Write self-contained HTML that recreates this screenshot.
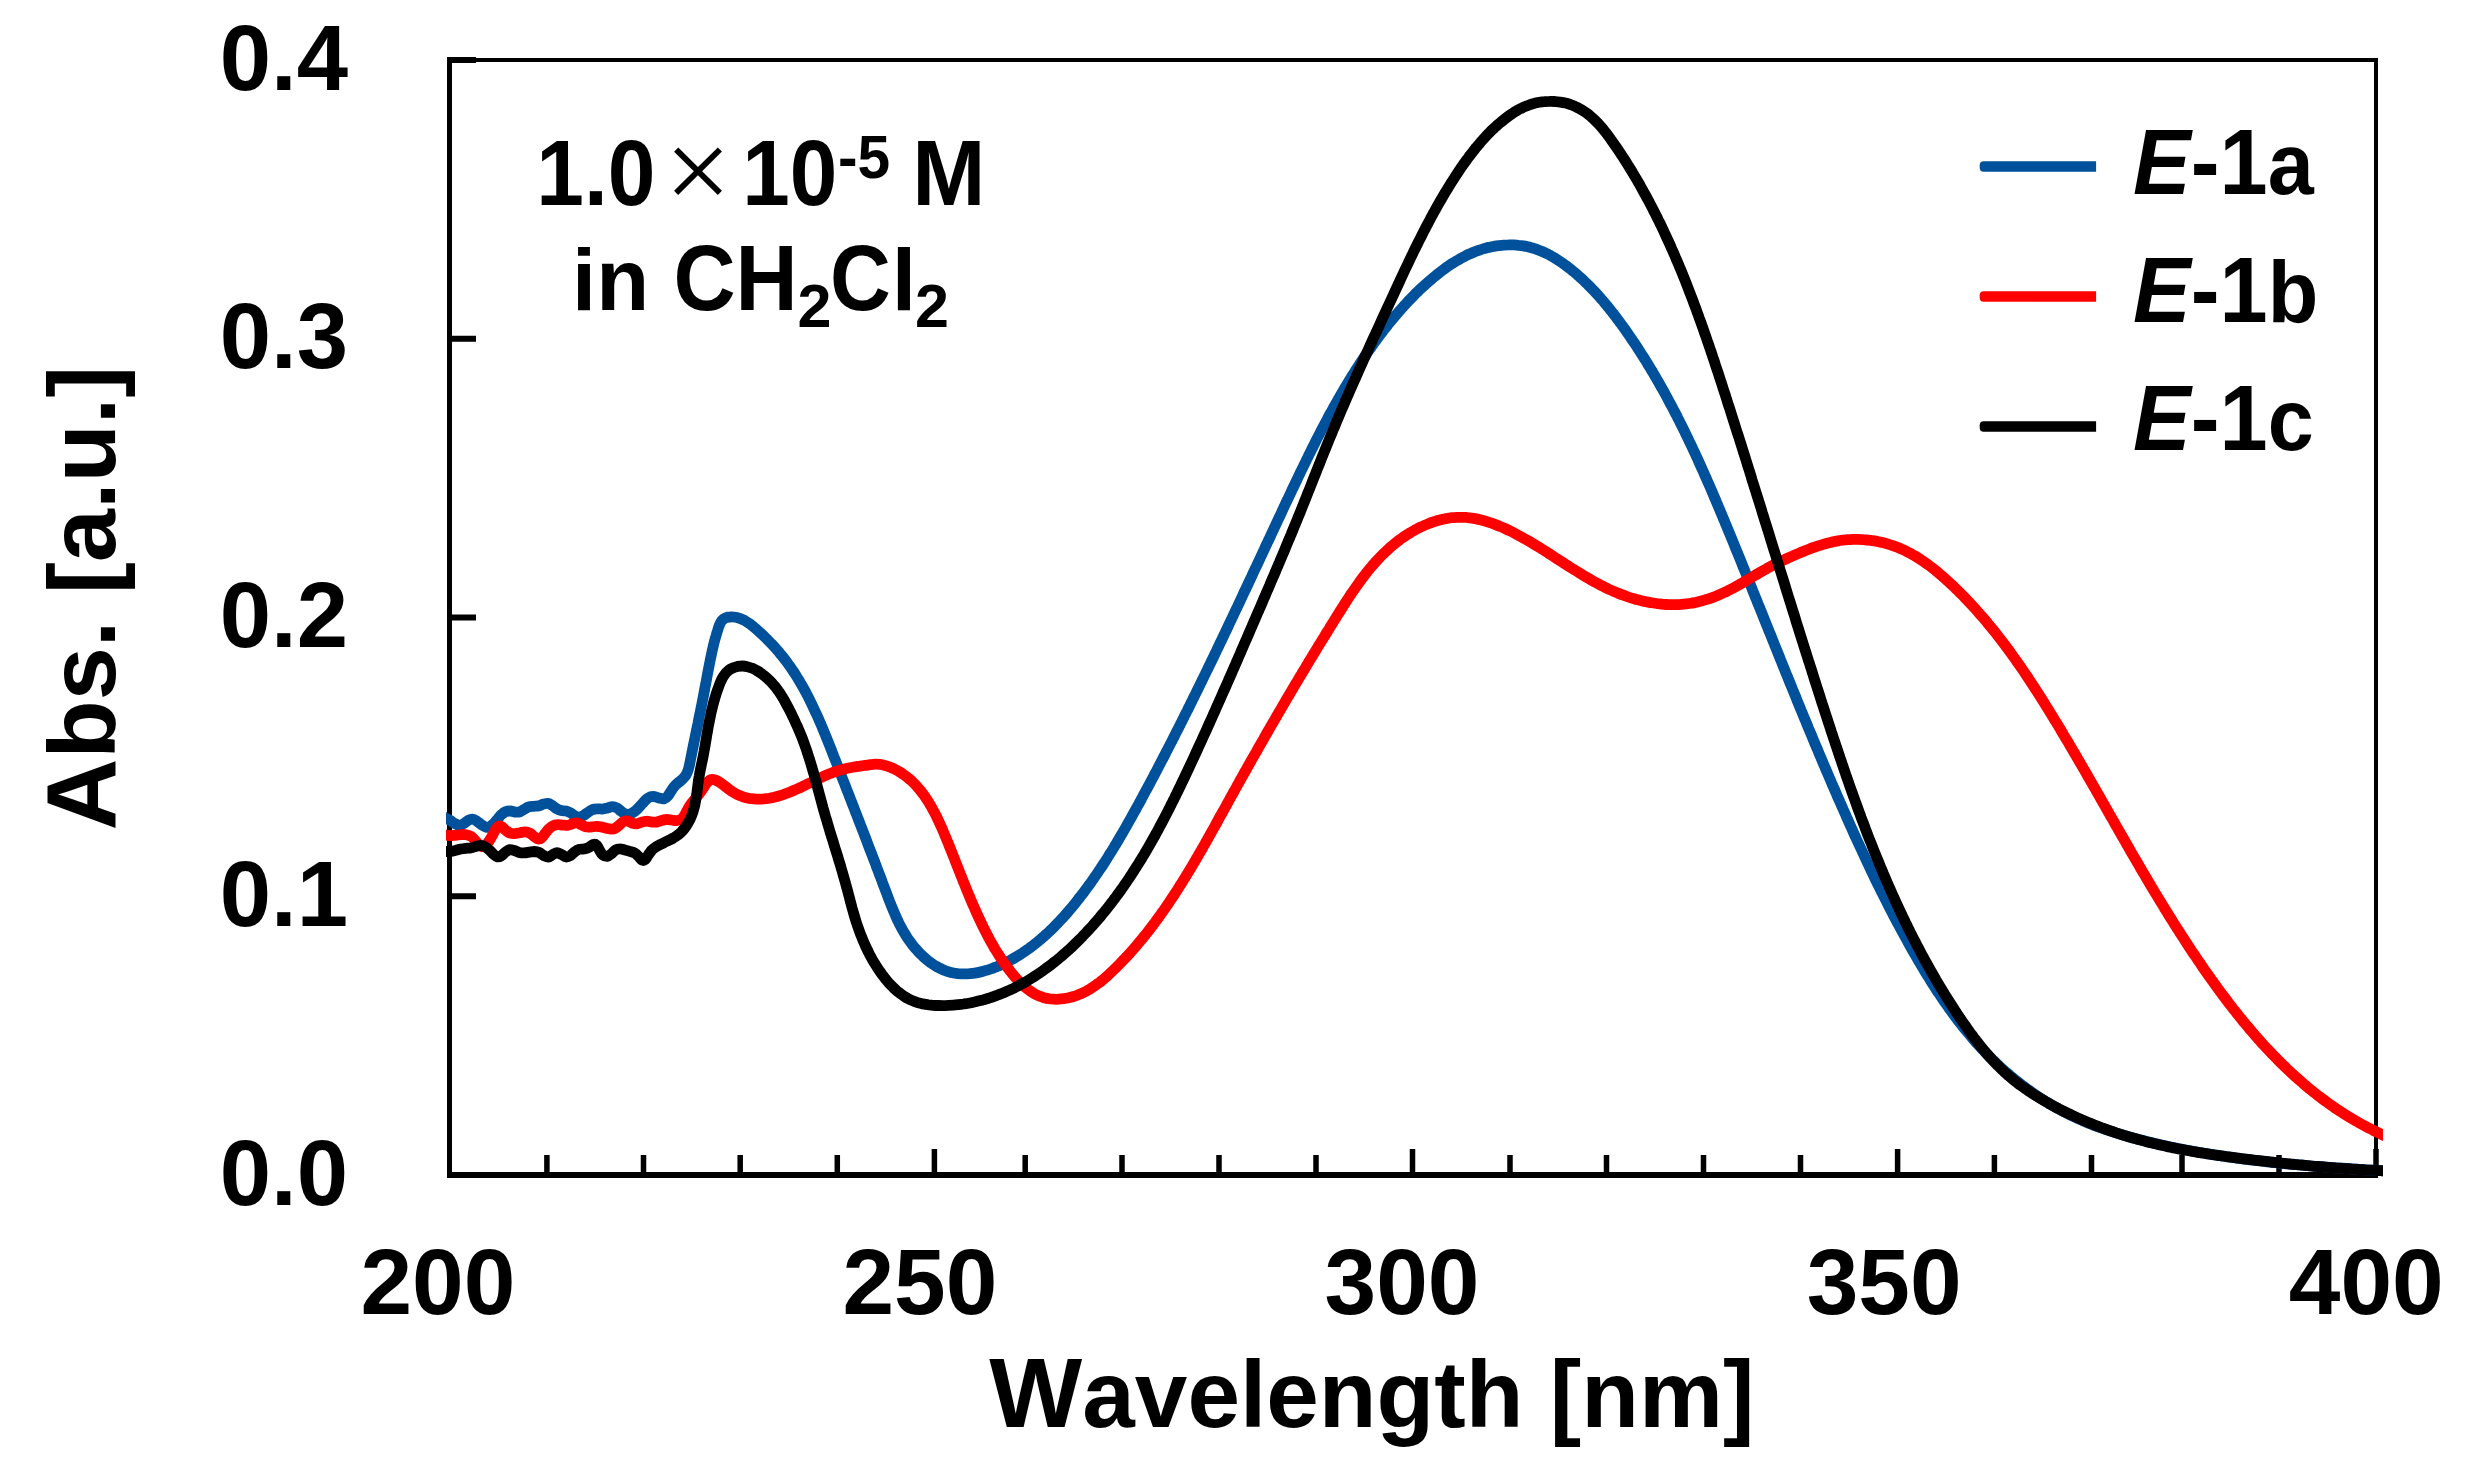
<!DOCTYPE html><html><head><meta charset="utf-8"><title>UV-vis absorption spectra</title>
<style>html,body{margin:0;padding:0;background:#fff;}svg{display:block;}text{font-family:"Liberation Sans",sans-serif;font-weight:bold;fill:#000;}</style></head><body>
<svg width="2466" height="1472" viewBox="0 0 2466 1472">
<rect width="2466" height="1472" fill="#fff"/>
<g stroke="#000" fill="none" stroke-linecap="butt">
<path d="M449.5,60.0 H2376.0 V1175.0" stroke-width="4"/>
<path d="M449.5,57.0 V1178.0" stroke-width="5"/>
<path d="M447.0,1175.0 H2378.0" stroke-width="6"/>
<path d="M546.9,1175.0 V1155.0M643.5,1175.0 V1155.0M740.2,1175.0 V1155.0M837.3,1175.0 V1155.0M934.4,1175.0 V1149.0M1025.2,1175.0 V1155.0M1122.0,1175.0 V1155.0M1219.0,1175.0 V1155.0M1316.0,1175.0 V1155.0M1412.5,1175.0 V1149.0M1510.0,1175.0 V1155.0M1606.5,1175.0 V1155.0M1703.5,1175.0 V1155.0M1800.5,1175.0 V1155.0M1897.6,1175.0 V1149.0M1994.4,1175.0 V1155.0M2091.5,1175.0 V1155.0M2182.0,1175.0 V1155.0M2279.0,1175.0 V1155.0M2376.0,1175.0 V1149.0" stroke-width="5.5"/>
<path d="M449.5,60.0 H476.0M449.5,338.8 H476.0M449.5,617.5 H476.0M449.5,896.2 H476.0" stroke-width="6"/>
</g>
<clipPath id="plotclip"><rect x="446" y="40" width="1937" height="1160"/></clipPath>
<g fill="none" stroke-width="10.8" stroke-linejoin="round" stroke-linecap="butt" clip-path="url(#plotclip)">
<path stroke="#00519b" d="M438.1,813.9C439.4,814.6 444.1,817.1 446.1,818.2C448.1,819.3 448.7,819.5 450.2,820.4C451.6,821.3 453.2,822.7 454.8,823.5C456.3,824.3 457.9,825.2 459.4,825.2C461.0,825.2 462.5,824.3 463.9,823.5C465.4,822.7 466.8,821.1 468.3,820.3C469.7,819.6 471.1,819.0 472.6,819.2C474.1,819.3 475.6,820.4 477.1,821.3C478.6,822.2 480.1,823.8 481.6,824.8C483.1,825.7 484.6,826.9 486.0,827.2C487.4,827.5 488.8,827.3 490.1,826.6C491.4,825.9 492.7,824.6 494.0,823.3C495.3,822.0 496.5,820.2 497.8,818.8C499.0,817.3 500.2,815.7 501.5,814.5C502.8,813.4 504.1,812.3 505.5,811.7C507.0,811.1 508.5,811.0 510.1,811.0C511.7,811.1 513.5,811.9 515.1,812.1C516.7,812.2 518.4,812.3 519.9,811.8C521.4,811.3 522.8,810.1 524.3,809.3C525.7,808.5 527.1,807.3 528.7,806.8C530.2,806.3 531.9,806.4 533.5,806.3C535.2,806.1 536.9,806.2 538.6,805.9C540.3,805.5 541.9,804.5 543.5,804.1C545.1,803.7 546.6,803.1 548.1,803.4C549.5,803.6 550.9,804.6 552.3,805.5C553.7,806.4 555.0,807.9 556.5,808.7C558.0,809.6 559.5,810.2 561.1,810.6C562.7,811.0 564.5,810.6 566.1,811.0C567.7,811.4 569.3,812.2 570.8,813.0C572.3,813.8 573.7,815.3 575.1,815.9C576.6,816.6 577.9,817.2 579.3,817.1C580.7,817.1 582.1,816.2 583.6,815.4C585.0,814.6 586.5,813.2 588.0,812.3C589.5,811.3 591.0,810.1 592.6,809.5C594.2,809.0 595.8,808.9 597.5,808.8C599.1,808.7 600.9,809.2 602.5,809.0C604.2,808.9 605.9,808.3 607.6,807.9C609.2,807.5 610.8,806.6 612.4,806.6C613.9,806.6 615.4,807.1 616.8,807.9C618.3,808.6 619.6,810.1 621.0,811.1C622.4,812.1 623.8,813.4 625.2,813.9C626.6,814.4 628.1,814.5 629.5,814.2C631.0,813.8 632.5,812.9 633.9,811.9C635.4,810.9 636.9,809.5 638.3,808.1C639.6,806.7 641.0,805.1 642.3,803.7C643.6,802.3 644.8,800.7 646.1,799.6C647.5,798.5 648.7,797.4 650.2,796.9C651.6,796.4 653.2,796.4 654.8,796.6C656.4,796.8 658.2,797.9 659.8,798.2C661.4,798.6 663.0,799.1 664.4,798.7C665.7,798.4 666.8,797.3 667.8,796.1C668.9,794.9 669.8,793.1 670.8,791.6C671.8,790.1 672.8,788.3 673.9,786.9C675.1,785.5 676.4,784.3 677.7,783.2C679.0,782.0 680.4,781.0 681.6,779.9C682.8,778.8 684.0,777.8 684.9,776.5C685.9,775.3 686.6,773.9 687.2,772.4C687.9,770.9 688.4,769.3 688.8,767.7C689.3,766.1 689.6,764.4 689.9,762.7C690.3,761.0 690.6,759.3 690.9,757.6C691.3,756.0 691.6,754.3 691.9,752.6C692.3,751.0 692.6,749.3 692.9,747.7C693.3,746.0 693.6,744.4 693.9,742.7C694.3,741.1 694.6,739.4 695.0,737.8C695.3,736.2 695.6,734.5 696.0,732.9C696.3,731.3 696.6,729.7 697.0,728.1C697.3,726.4 697.6,724.8 698.0,723.2C698.3,721.6 698.6,720.0 698.9,718.3C699.3,716.7 699.6,715.1 699.9,713.5C700.3,711.9 700.6,710.3 700.9,708.6C701.2,707.0 701.6,705.4 701.9,703.8C702.2,702.1 702.5,700.5 702.8,698.9C703.2,697.2 703.5,695.6 703.8,694.0C704.1,692.3 704.4,690.7 704.7,689.0C705.0,687.4 705.3,685.7 705.7,684.1C706.0,682.4 706.3,680.7 706.6,679.1C706.9,677.4 707.2,675.8 707.5,674.1C707.8,672.4 708.1,670.8 708.5,669.1C708.8,667.5 709.1,665.9 709.4,664.2C709.7,662.6 710.1,661.0 710.4,659.3C710.7,657.7 711.1,656.1 711.4,654.5C711.7,652.9 712.1,651.4 712.4,649.8C712.8,648.2 713.2,646.6 713.5,645.1C713.9,643.5 714.3,641.9 714.7,640.3C715.2,638.7 715.6,637.1 716.1,635.5C716.5,633.9 717.0,632.2 717.6,630.5C718.1,628.8 718.6,627.0 719.3,625.4C720.0,623.8 720.7,622.1 721.7,620.8C722.7,619.6 724.0,618.6 725.5,617.9C726.9,617.3 728.7,617.0 730.4,617.0C732.1,616.9 733.9,617.0 735.6,617.3C737.2,617.6 738.8,618.1 740.3,618.6C741.9,619.2 743.3,619.9 744.8,620.6C746.2,621.4 747.6,622.3 749.0,623.3C750.4,624.2 751.7,625.3 753.0,626.3C754.3,627.4 755.6,628.5 756.8,629.6C758.1,630.7 759.4,631.9 760.6,633.1C761.8,634.2 763.1,635.4 764.3,636.5C765.5,637.7 766.7,638.9 767.9,640.1C769.0,641.3 770.2,642.5 771.4,643.7C772.5,644.9 773.6,646.1 774.8,647.4C775.9,648.6 777.0,649.9 778.1,651.1C779.2,652.4 780.2,653.7 781.3,655.0C782.3,656.2 783.4,657.5 784.4,658.9C785.4,660.2 786.4,661.5 787.4,662.8C788.3,664.2 789.3,665.5 790.3,666.9C791.2,668.2 792.1,669.6 793.1,671.0C794.0,672.3 794.9,673.7 795.8,675.1C796.6,676.5 797.5,677.9 798.4,679.3C799.2,680.7 800.1,682.2 800.9,683.6C801.7,685.0 802.6,686.5 803.4,687.9C804.2,689.4 805.0,690.8 805.8,692.3C806.5,693.8 807.3,695.2 808.1,696.7C808.8,698.2 809.6,699.7 810.3,701.2C811.1,702.7 811.8,704.2 812.5,705.7C813.2,707.2 813.9,708.7 814.6,710.2C815.3,711.7 816.0,713.2 816.7,714.7C817.4,716.3 818.1,717.8 818.8,719.3C819.4,720.9 820.1,722.4 820.8,723.9C821.4,725.5 822.1,727.0 822.7,728.6C823.4,730.1 824.0,731.7 824.6,733.2C825.3,734.8 825.9,736.3 826.5,737.9C827.2,739.4 827.8,741.0 828.4,742.5C829.0,744.1 829.7,745.7 830.3,747.2C830.9,748.8 831.5,750.3 832.1,751.9C832.7,753.5 833.3,755.0 833.9,756.6C834.5,758.2 835.2,759.7 835.8,761.3C836.4,762.8 837.0,764.4 837.6,765.9C838.2,767.5 838.8,769.1 839.4,770.6C840.0,772.2 840.6,773.7 841.2,775.3C841.8,776.8 842.4,778.4 843.0,779.9C843.6,781.5 844.3,783.0 844.9,784.6C845.5,786.1 846.1,787.7 846.7,789.3C847.3,790.8 847.9,792.4 848.5,793.9C849.1,795.5 849.7,797.0 850.3,798.6C850.9,800.1 851.5,801.7 852.1,803.2C852.7,804.7 853.3,806.3 853.9,807.8C854.5,809.4 855.1,810.9 855.7,812.5C856.3,814.0 856.9,815.6 857.5,817.1C858.1,818.7 858.7,820.2 859.3,821.8C859.9,823.3 860.5,824.9 861.1,826.4C861.7,828.0 862.3,829.5 862.9,831.1C863.5,832.6 864.1,834.2 864.7,835.7C865.3,837.3 865.9,838.8 866.5,840.4C867.1,841.9 867.6,843.5 868.2,845.0C868.8,846.6 869.4,848.1 870.0,849.7C870.6,851.2 871.2,852.8 871.8,854.3C872.4,855.9 873.0,857.4 873.6,859.0C874.2,860.5 874.8,862.1 875.4,863.6C876.0,865.2 876.5,866.8 877.1,868.3C877.7,869.9 878.3,871.4 878.9,873.0C879.5,874.5 880.1,876.1 880.7,877.7C881.3,879.2 881.9,880.8 882.4,882.3C883.0,883.9 883.6,885.5 884.2,887.0C884.8,888.6 885.4,890.2 886.0,891.7C886.6,893.3 887.2,894.9 887.7,896.4C888.3,898.0 888.9,899.6 889.5,901.1C890.2,902.7 890.8,904.2 891.4,905.8C892.0,907.3 892.6,908.9 893.3,910.4C893.9,912.0 894.6,913.5 895.3,915.0C895.9,916.6 896.6,918.1 897.3,919.6C898.0,921.1 898.8,922.6 899.5,924.1C900.3,925.5 901.0,927.0 901.8,928.5C902.6,929.9 903.4,931.4 904.3,932.8C905.1,934.2 906.0,935.7 906.9,937.1C907.8,938.5 908.7,939.8 909.7,941.2C910.7,942.6 911.7,943.9 912.7,945.2C913.8,946.6 914.9,947.9 916.0,949.1C917.1,950.4 918.2,951.7 919.4,952.9C920.6,954.1 921.9,955.3 923.1,956.5C924.4,957.7 925.7,958.8 927.0,959.9C928.3,961.0 929.7,962.0 931.1,963.0C932.4,964.0 933.9,964.9 935.3,965.8C936.7,966.6 938.2,967.5 939.7,968.2C941.1,968.9 942.6,969.6 944.1,970.2C945.7,970.8 947.2,971.4 948.7,971.8C950.3,972.3 951.8,972.7 953.4,973.0C955.0,973.3 956.6,973.5 958.1,973.7C959.7,973.8 961.3,973.9 962.9,973.9C964.5,974.0 966.2,973.9 967.8,973.8C969.4,973.8 971.0,973.6 972.6,973.4C974.3,973.2 975.9,972.9 977.5,972.6C979.1,972.3 980.8,971.9 982.4,971.5C984.0,971.1 985.6,970.7 987.2,970.2C988.9,969.7 990.5,969.1 992.1,968.5C993.7,968.0 995.3,967.3 996.8,966.7C998.4,966.0 1000.0,965.4 1001.6,964.6C1003.1,963.9 1004.7,963.2 1006.2,962.4C1007.7,961.6 1009.2,960.8 1010.7,960.0C1012.2,959.2 1013.7,958.4 1015.2,957.5C1016.6,956.7 1018.1,955.8 1019.5,954.9C1020.9,954.0 1022.3,953.1 1023.7,952.1C1025.1,951.2 1026.5,950.2 1027.9,949.3C1029.2,948.3 1030.6,947.3 1031.9,946.3C1033.3,945.3 1034.6,944.3 1035.9,943.2C1037.2,942.2 1038.5,941.2 1039.7,940.1C1041.0,939.0 1042.3,937.9 1043.5,936.8C1044.8,935.7 1046.0,934.6 1047.2,933.5C1048.4,932.4 1049.6,931.2 1050.8,930.1C1052.0,928.9 1053.2,927.8 1054.4,926.6C1055.5,925.4 1056.7,924.2 1057.8,923.0C1059.0,921.8 1060.1,920.6 1061.2,919.4C1062.4,918.2 1063.5,917.0 1064.6,915.7C1065.7,914.5 1066.8,913.2 1067.9,912.0C1069.0,910.7 1070.0,909.5 1071.1,908.2C1072.2,906.9 1073.2,905.6 1074.3,904.4C1075.3,903.1 1076.3,901.8 1077.4,900.5C1078.4,899.2 1079.4,897.9 1080.4,896.5C1081.5,895.2 1082.5,893.9 1083.5,892.6C1084.5,891.3 1085.5,889.9 1086.4,888.6C1087.4,887.3 1088.4,885.9 1089.4,884.6C1090.4,883.2 1091.3,881.9 1092.3,880.5C1093.2,879.2 1094.2,877.8 1095.1,876.4C1096.1,875.1 1097.0,873.7 1097.9,872.3C1098.9,870.9 1099.8,869.5 1100.7,868.2C1101.6,866.8 1102.6,865.4 1103.5,864.0C1104.4,862.6 1105.3,861.2 1106.2,859.8C1107.1,858.4 1108.0,857.0 1108.8,855.6C1109.7,854.2 1110.6,852.7 1111.5,851.3C1112.4,849.9 1113.2,848.5 1114.1,847.1C1115.0,845.6 1115.8,844.2 1116.7,842.8C1117.5,841.3 1118.4,839.9 1119.2,838.5C1120.1,837.0 1120.9,835.6 1121.8,834.1C1122.6,832.7 1123.5,831.3 1124.3,829.8C1125.1,828.4 1126.0,826.9 1126.8,825.5C1127.6,824.0 1128.4,822.5 1129.2,821.1C1130.1,819.6 1130.9,818.2 1131.7,816.7C1132.5,815.3 1133.3,813.8 1134.1,812.3C1134.9,810.9 1135.8,809.4 1136.6,807.9C1137.4,806.5 1138.2,805.0 1139.0,803.5C1139.8,802.1 1140.6,800.6 1141.4,799.1C1142.1,797.7 1142.9,796.2 1143.7,794.7C1144.5,793.3 1145.3,791.8 1146.1,790.3C1146.9,788.8 1147.7,787.4 1148.5,785.9C1149.3,784.4 1150.0,783.0 1150.8,781.5C1151.6,780.0 1152.4,778.5 1153.2,777.1C1153.9,775.6 1154.7,774.1 1155.5,772.6C1156.3,771.2 1157.1,769.7 1157.8,768.2C1158.6,766.7 1159.4,765.2 1160.1,763.8C1160.9,762.3 1161.7,760.8 1162.5,759.3C1163.2,757.9 1164.0,756.4 1164.8,754.9C1165.5,753.4 1166.3,751.9 1167.0,750.5C1167.8,749.0 1168.6,747.5 1169.3,746.0C1170.1,744.5 1170.9,743.0 1171.6,741.6C1172.4,740.1 1173.1,738.6 1173.9,737.1C1174.6,735.6 1175.4,734.1 1176.1,732.7C1176.9,731.2 1177.6,729.7 1178.4,728.2C1179.2,726.7 1179.9,725.2 1180.6,723.7C1181.4,722.3 1182.1,720.8 1182.9,719.3C1183.6,717.8 1184.4,716.3 1185.1,714.8C1185.9,713.3 1186.6,711.8 1187.4,710.4C1188.1,708.9 1188.8,707.4 1189.6,705.9C1190.3,704.4 1191.1,702.9 1191.8,701.4C1192.5,699.9 1193.3,698.4 1194.0,696.9C1194.7,695.5 1195.5,694.0 1196.2,692.5C1196.9,691.0 1197.7,689.5 1198.4,688.0C1199.1,686.5 1199.9,685.0 1200.6,683.5C1201.3,682.0 1202.1,680.5 1202.8,679.0C1203.5,677.5 1204.2,676.0 1205.0,674.5C1205.7,673.0 1206.4,671.5 1207.2,670.0C1207.9,668.6 1208.6,667.1 1209.3,665.6C1210.0,664.1 1210.8,662.6 1211.5,661.1C1212.2,659.6 1212.9,658.1 1213.7,656.6C1214.4,655.1 1215.1,653.6 1215.8,652.1C1216.5,650.6 1217.3,649.1 1218.0,647.6C1218.7,646.1 1219.4,644.6 1220.1,643.1C1220.9,641.6 1221.6,640.1 1222.3,638.6C1223.0,637.1 1223.7,635.6 1224.4,634.1C1225.1,632.6 1225.9,631.1 1226.6,629.6C1227.3,628.1 1228.0,626.6 1228.7,625.1C1229.4,623.6 1230.1,622.0 1230.9,620.5C1231.6,619.0 1232.3,617.5 1233.0,616.0C1233.7,614.5 1234.4,613.0 1235.1,611.5C1235.8,610.0 1236.5,608.5 1237.3,607.0C1238.0,605.5 1238.7,604.0 1239.4,602.5C1240.1,601.0 1240.8,599.5 1241.5,598.0C1242.2,596.5 1242.9,595.0 1243.6,593.4C1244.3,591.9 1245.0,590.4 1245.8,588.9C1246.5,587.4 1247.2,585.9 1247.9,584.4C1248.6,582.9 1249.3,581.4 1250.0,579.9C1250.7,578.4 1251.4,576.9 1252.1,575.3C1252.8,573.8 1253.5,572.3 1254.2,570.8C1254.9,569.3 1255.6,567.8 1256.4,566.3C1257.1,564.8 1257.8,563.3 1258.5,561.8C1259.2,560.2 1259.9,558.7 1260.6,557.2C1261.3,555.7 1262.0,554.2 1262.7,552.7C1263.4,551.2 1264.1,549.7 1264.8,548.2C1265.5,546.6 1266.2,545.1 1266.9,543.6C1267.6,542.1 1268.4,540.6 1269.1,539.1C1269.8,537.6 1270.5,536.1 1271.2,534.5C1271.9,533.0 1272.6,531.5 1273.3,530.0C1274.0,528.5 1274.7,527.0 1275.4,525.5C1276.1,524.0 1276.8,522.4 1277.5,520.9C1278.2,519.4 1279.0,517.9 1279.7,516.4C1280.4,514.9 1281.1,513.4 1281.8,511.8C1282.5,510.3 1283.2,508.8 1283.9,507.3C1284.6,505.8 1285.3,504.3 1286.0,502.8C1286.7,501.2 1287.5,499.7 1288.2,498.2C1288.9,496.7 1289.6,495.2 1290.3,493.7C1291.0,492.2 1291.7,490.6 1292.4,489.1C1293.2,487.6 1293.9,486.1 1294.6,484.6C1295.3,483.1 1296.0,481.6 1296.8,480.1C1297.5,478.5 1298.2,477.0 1298.9,475.5C1299.6,474.0 1300.4,472.5 1301.1,471.0C1301.8,469.5 1302.5,468.0 1303.3,466.5C1304.0,465.0 1304.7,463.5 1305.5,462.0C1306.2,460.5 1306.9,459.0 1307.7,457.5C1308.4,456.0 1309.1,454.5 1309.9,453.0C1310.6,451.5 1311.4,450.0 1312.1,448.5C1312.9,447.0 1313.6,445.5 1314.4,444.0C1315.1,442.5 1315.9,441.0 1316.6,439.5C1317.4,438.0 1318.2,436.5 1318.9,435.1C1319.7,433.6 1320.4,432.1 1321.2,430.6C1322.0,429.1 1322.8,427.6 1323.5,426.2C1324.3,424.7 1325.1,423.2 1325.9,421.7C1326.7,420.3 1327.4,418.8 1328.2,417.3C1329.0,415.9 1329.8,414.4 1330.6,412.9C1331.4,411.5 1332.2,410.0 1333.0,408.6C1333.8,407.1 1334.6,405.7 1335.4,404.2C1336.3,402.8 1337.1,401.3 1337.9,399.9C1338.7,398.4 1339.5,397.0 1340.4,395.5C1341.2,394.1 1342.0,392.7 1342.9,391.2C1343.7,389.8 1344.6,388.4 1345.4,386.9C1346.3,385.5 1347.1,384.1 1348.0,382.7C1348.8,381.2 1349.7,379.8 1350.6,378.4C1351.4,377.0 1352.3,375.6 1353.2,374.2C1354.1,372.8 1355.0,371.4 1355.8,370.0C1356.7,368.6 1357.6,367.2 1358.5,365.8C1359.4,364.4 1360.3,363.0 1361.3,361.6C1362.2,360.3 1363.1,358.9 1364.0,357.5C1364.9,356.1 1365.9,354.8 1366.8,353.4C1367.7,352.0 1368.7,350.7 1369.6,349.3C1370.6,348.0 1371.5,346.6 1372.5,345.3C1373.5,343.9 1374.4,342.6 1375.4,341.2C1376.4,339.9 1377.3,338.6 1378.3,337.2C1379.3,335.9 1380.3,334.6 1381.3,333.3C1382.3,332.0 1383.3,330.6 1384.3,329.3C1385.4,328.0 1386.4,326.7 1387.4,325.4C1388.4,324.1 1389.5,322.8 1390.5,321.6C1391.6,320.3 1392.6,319.0 1393.7,317.7C1394.8,316.4 1395.8,315.2 1396.9,313.9C1398.0,312.7 1399.1,311.4 1400.2,310.2C1401.3,308.9 1402.4,307.7 1403.5,306.4C1404.6,305.2 1405.7,304.0 1406.8,302.8C1408.0,301.6 1409.1,300.3 1410.3,299.1C1411.4,298.0 1412.6,296.8 1413.8,295.6C1414.9,294.4 1416.1,293.2 1417.3,292.1C1418.5,290.9 1419.7,289.7 1420.9,288.6C1422.2,287.4 1423.4,286.3 1424.6,285.2C1425.9,284.0 1427.1,282.9 1428.4,281.8C1429.6,280.7 1430.9,279.6 1432.2,278.5C1433.5,277.4 1434.8,276.4 1436.1,275.3C1437.4,274.2 1438.7,273.2 1440.0,272.2C1441.4,271.1 1442.7,270.1 1444.1,269.1C1445.4,268.1 1446.8,267.2 1448.2,266.2C1449.6,265.3 1451.0,264.3 1452.4,263.4C1453.8,262.5 1455.2,261.6 1456.7,260.8C1458.1,259.9 1459.6,259.1 1461.0,258.3C1462.5,257.5 1464.0,256.7 1465.5,255.9C1466.9,255.2 1468.4,254.5 1470.0,253.8C1471.5,253.1 1473.0,252.5 1474.6,251.9C1476.1,251.2 1477.7,250.7 1479.3,250.1C1480.8,249.6 1482.4,249.1 1484.0,248.6C1485.6,248.2 1487.3,247.7 1488.9,247.4C1490.5,247.0 1492.1,246.6 1493.8,246.4C1495.4,246.1 1497.1,245.8 1498.7,245.6C1500.4,245.4 1502.0,245.2 1503.7,245.1C1505.3,245.0 1507.0,244.9 1508.6,244.9C1510.3,244.8 1511.9,244.9 1513.6,244.9C1515.2,245.0 1516.9,245.1 1518.5,245.3C1520.1,245.4 1521.8,245.6 1523.4,245.9C1525.0,246.2 1526.6,246.5 1528.2,246.9C1529.8,247.2 1531.4,247.7 1533.0,248.1C1534.5,248.6 1536.1,249.1 1537.6,249.7C1539.2,250.3 1540.7,250.9 1542.2,251.5C1543.7,252.2 1545.2,252.9 1546.7,253.6C1548.2,254.4 1549.7,255.1 1551.1,256.0C1552.6,256.8 1554.0,257.6 1555.5,258.5C1556.9,259.4 1558.3,260.3 1559.7,261.2C1561.1,262.1 1562.5,263.1 1563.9,264.1C1565.3,265.1 1566.6,266.1 1568.0,267.1C1569.3,268.2 1570.7,269.2 1572.0,270.3C1573.3,271.4 1574.6,272.4 1575.9,273.5C1577.2,274.6 1578.4,275.8 1579.7,276.9C1580.9,278.0 1582.2,279.2 1583.4,280.3C1584.6,281.5 1585.8,282.6 1587.0,283.8C1588.2,285.0 1589.4,286.2 1590.6,287.4C1591.8,288.6 1592.9,289.8 1594.1,291.0C1595.2,292.2 1596.4,293.4 1597.5,294.7C1598.6,295.9 1599.7,297.2 1600.8,298.4C1601.9,299.7 1603.0,300.9 1604.1,302.2C1605.1,303.5 1606.2,304.8 1607.3,306.1C1608.3,307.4 1609.4,308.6 1610.4,310.0C1611.5,311.3 1612.5,312.6 1613.5,313.9C1614.5,315.2 1615.5,316.5 1616.5,317.8C1617.5,319.2 1618.5,320.5 1619.5,321.8C1620.5,323.2 1621.5,324.5 1622.5,325.9C1623.4,327.2 1624.4,328.6 1625.4,329.9C1626.3,331.3 1627.3,332.7 1628.2,334.0C1629.2,335.4 1630.1,336.8 1631.0,338.1C1632.0,339.5 1632.9,340.9 1633.8,342.3C1634.8,343.6 1635.7,345.0 1636.6,346.4C1637.5,347.8 1638.4,349.2 1639.3,350.6C1640.2,352.0 1641.1,353.4 1642.0,354.8C1642.9,356.2 1643.8,357.6 1644.7,359.0C1645.5,360.4 1646.4,361.8 1647.3,363.2C1648.1,364.6 1649.0,366.0 1649.9,367.5C1650.7,368.9 1651.6,370.3 1652.4,371.7C1653.3,373.1 1654.1,374.6 1654.9,376.0C1655.8,377.4 1656.6,378.9 1657.4,380.3C1658.3,381.8 1659.1,383.2 1659.9,384.6C1660.7,386.1 1661.5,387.5 1662.4,389.0C1663.2,390.4 1664.0,391.9 1664.8,393.3C1665.6,394.8 1666.4,396.2 1667.2,397.7C1668.0,399.2 1668.7,400.6 1669.5,402.1C1670.3,403.6 1671.1,405.0 1671.9,406.5C1672.6,408.0 1673.4,409.4 1674.2,410.9C1674.9,412.4 1675.7,413.9 1676.5,415.3C1677.2,416.8 1678.0,418.3 1678.7,419.8C1679.5,421.3 1680.2,422.8 1681.0,424.3C1681.7,425.7 1682.4,427.2 1683.2,428.7C1683.9,430.2 1684.7,431.7 1685.4,433.2C1686.1,434.7 1686.8,436.2 1687.6,437.7C1688.3,439.2 1689.0,440.7 1689.7,442.2C1690.4,443.7 1691.2,445.2 1691.9,446.7C1692.6,448.2 1693.3,449.7 1694.0,451.3C1694.7,452.8 1695.4,454.3 1696.1,455.8C1696.8,457.3 1697.5,458.8 1698.2,460.3C1698.9,461.9 1699.6,463.4 1700.2,464.9C1700.9,466.4 1701.6,467.9 1702.3,469.5C1703.0,471.0 1703.7,472.5 1704.3,474.0C1705.0,475.6 1705.7,477.1 1706.4,478.6C1707.0,480.2 1707.7,481.7 1708.4,483.2C1709.0,484.8 1709.7,486.3 1710.4,487.8C1711.0,489.3 1711.7,490.9 1712.4,492.4C1713.0,494.0 1713.7,495.5 1714.3,497.0C1715.0,498.6 1715.6,500.1 1716.3,501.6C1716.9,503.2 1717.6,504.7 1718.2,506.3C1718.9,507.8 1719.5,509.3 1720.2,510.9C1720.8,512.4 1721.5,514.0 1722.1,515.5C1722.8,517.0 1723.4,518.6 1724.1,520.1C1724.7,521.7 1725.3,523.2 1726.0,524.8C1726.6,526.3 1727.3,527.9 1727.9,529.4C1728.5,531.0 1729.2,532.5 1729.8,534.0C1730.4,535.6 1731.1,537.1 1731.7,538.7C1732.3,540.2 1733.0,541.8 1733.6,543.3C1734.2,544.9 1734.9,546.4 1735.5,548.0C1736.1,549.5 1736.8,551.1 1737.4,552.6C1738.0,554.2 1738.6,555.7 1739.3,557.2C1739.9,558.8 1740.5,560.3 1741.2,561.9C1741.8,563.4 1742.4,565.0 1743.0,566.5C1743.7,568.1 1744.3,569.6 1744.9,571.2C1745.6,572.7 1746.2,574.3 1746.8,575.8C1747.4,577.4 1748.1,578.9 1748.7,580.5C1749.3,582.0 1749.9,583.6 1750.6,585.1C1751.2,586.6 1751.8,588.2 1752.4,589.7C1753.0,591.3 1753.7,592.8 1754.3,594.4C1754.9,595.9 1755.5,597.5 1756.2,599.0C1756.8,600.6 1757.4,602.1 1758.0,603.7C1758.7,605.2 1759.3,606.8 1759.9,608.3C1760.5,609.9 1761.1,611.4 1761.8,612.9C1762.4,614.5 1763.0,616.0 1763.6,617.6C1764.3,619.1 1764.9,620.7 1765.5,622.2C1766.1,623.8 1766.7,625.3 1767.4,626.9C1768.0,628.4 1768.6,630.0 1769.2,631.5C1769.9,633.0 1770.5,634.6 1771.1,636.1C1771.7,637.7 1772.3,639.2 1773.0,640.8C1773.6,642.3 1774.2,643.9 1774.8,645.4C1775.4,647.0 1776.1,648.5 1776.7,650.0C1777.3,651.6 1777.9,653.1 1778.6,654.7C1779.2,656.2 1779.8,657.8 1780.4,659.3C1781.1,660.9 1781.7,662.4 1782.3,663.9C1782.9,665.5 1783.5,667.0 1784.2,668.6C1784.8,670.1 1785.4,671.7 1786.0,673.2C1786.7,674.7 1787.3,676.3 1787.9,677.8C1788.5,679.4 1789.2,680.9 1789.8,682.5C1790.4,684.0 1791.1,685.5 1791.7,687.1C1792.3,688.6 1792.9,690.2 1793.6,691.7C1794.2,693.3 1794.8,694.8 1795.5,696.3C1796.1,697.9 1796.7,699.4 1797.3,701.0C1798.0,702.5 1798.6,704.0 1799.2,705.6C1799.9,707.1 1800.5,708.7 1801.1,710.2C1801.8,711.7 1802.4,713.3 1803.0,714.8C1803.7,716.4 1804.3,717.9 1804.9,719.4C1805.6,721.0 1806.2,722.5 1806.8,724.0C1807.5,725.6 1808.1,727.1 1808.7,728.7C1809.4,730.2 1810.0,731.7 1810.7,733.3C1811.3,734.8 1811.9,736.3 1812.6,737.9C1813.2,739.4 1813.9,740.9 1814.5,742.5C1815.1,744.0 1815.8,745.5 1816.4,747.1C1817.1,748.6 1817.7,750.1 1818.4,751.7C1819.0,753.2 1819.6,754.8 1820.3,756.3C1820.9,757.8 1821.6,759.3 1822.2,760.9C1822.9,762.4 1823.5,763.9 1824.2,765.5C1824.8,767.0 1825.5,768.5 1826.1,770.1C1826.8,771.6 1827.4,773.1 1828.1,774.7C1828.8,776.2 1829.4,777.7 1830.1,779.3C1830.7,780.8 1831.4,782.3 1832.0,783.8C1832.7,785.4 1833.4,786.9 1834.0,788.4C1834.7,789.9 1835.3,791.5 1836.0,793.0C1836.7,794.5 1837.3,796.1 1838.0,797.6C1838.7,799.1 1839.3,800.6 1840.0,802.2C1840.7,803.7 1841.3,805.2 1842.0,806.7C1842.7,808.3 1843.4,809.8 1844.0,811.3C1844.7,812.8 1845.4,814.3 1846.1,815.9C1846.7,817.4 1847.4,818.9 1848.1,820.4C1848.8,822.0 1849.4,823.5 1850.1,825.0C1850.8,826.5 1851.5,828.0 1852.2,829.6C1852.9,831.1 1853.5,832.6 1854.2,834.1C1854.9,835.6 1855.6,837.1 1856.3,838.7C1857.0,840.2 1857.7,841.7 1858.4,843.2C1859.1,844.7 1859.8,846.2 1860.5,847.7C1861.2,849.3 1861.9,850.8 1862.6,852.3C1863.3,853.8 1864.0,855.3 1864.7,856.8C1865.4,858.3 1866.1,859.8 1866.8,861.3C1867.5,862.8 1868.2,864.3 1869.0,865.9C1869.7,867.4 1870.4,868.9 1871.1,870.4C1871.8,871.9 1872.5,873.4 1873.3,874.9C1874.0,876.4 1874.7,877.9 1875.4,879.4C1876.2,880.9 1876.9,882.4 1877.6,883.9C1878.4,885.4 1879.1,886.9 1879.9,888.4C1880.6,889.9 1881.3,891.4 1882.1,892.9C1882.8,894.3 1883.6,895.8 1884.3,897.3C1885.1,898.8 1885.8,900.3 1886.6,901.8C1887.3,903.3 1888.1,904.8 1888.8,906.3C1889.6,907.7 1890.4,909.2 1891.1,910.7C1891.9,912.2 1892.7,913.7 1893.4,915.2C1894.2,916.6 1895.0,918.1 1895.8,919.6C1896.5,921.1 1897.3,922.5 1898.1,924.0C1898.9,925.5 1899.7,927.0 1900.5,928.4C1901.3,929.9 1902.1,931.4 1902.9,932.9C1903.6,934.3 1904.4,935.8 1905.3,937.3C1906.1,938.7 1906.9,940.2 1907.7,941.6C1908.5,943.1 1909.3,944.6 1910.1,946.0C1910.9,947.5 1911.8,948.9 1912.6,950.4C1913.4,951.9 1914.2,953.3 1915.1,954.8C1915.9,956.2 1916.7,957.7 1917.6,959.1C1918.4,960.6 1919.3,962.0 1920.1,963.4C1921.0,964.9 1921.8,966.3 1922.7,967.8C1923.5,969.2 1924.4,970.6 1925.3,972.1C1926.1,973.5 1927.0,974.9 1927.9,976.3C1928.8,977.8 1929.6,979.2 1930.5,980.6C1931.4,982.0 1932.3,983.4 1933.2,984.8C1934.1,986.2 1935.0,987.6 1935.9,989.0C1936.8,990.4 1937.8,991.8 1938.7,993.2C1939.6,994.6 1940.5,996.0 1941.5,997.4C1942.4,998.8 1943.3,1000.1 1944.3,1001.5C1945.2,1002.9 1946.2,1004.2 1947.2,1005.6C1948.1,1007.0 1949.1,1008.3 1950.1,1009.7C1951.0,1011.0 1952.0,1012.4 1953.0,1013.7C1954.0,1015.0 1955.0,1016.4 1956.0,1017.7C1957.0,1019.0 1958.0,1020.4 1959.0,1021.7C1960.0,1023.0 1961.0,1024.3 1962.1,1025.6C1963.1,1026.9 1964.1,1028.2 1965.2,1029.5C1966.2,1030.8 1967.3,1032.1 1968.4,1033.3C1969.4,1034.6 1970.5,1035.9 1971.6,1037.1C1972.6,1038.4 1973.7,1039.7 1974.8,1040.9C1975.9,1042.2 1977.0,1043.4 1978.1,1044.6C1979.3,1045.9 1980.4,1047.1 1981.5,1048.3C1982.6,1049.5 1983.8,1050.7 1984.9,1051.9C1986.1,1053.1 1987.2,1054.3 1988.4,1055.5C1989.6,1056.7 1990.7,1057.9 1991.9,1059.0C1993.1,1060.2 1994.3,1061.3 1995.5,1062.5C1996.7,1063.6 1997.9,1064.8 1999.2,1065.9C2000.4,1067.0 2001.6,1068.2 2002.8,1069.3C2004.1,1070.4 2005.3,1071.5 2006.6,1072.6C2007.9,1073.7 2009.1,1074.7 2010.4,1075.8C2011.7,1076.9 2013.0,1078.0 2014.3,1079.0C2015.6,1080.1 2016.9,1081.1 2018.2,1082.1C2019.5,1083.2 2020.8,1084.2 2022.1,1085.2C2023.4,1086.2 2024.8,1087.2 2026.1,1088.2C2027.5,1089.2 2028.8,1090.2 2030.2,1091.1C2031.5,1092.1 2032.9,1093.0 2034.3,1094.0C2035.7,1094.9 2037.0,1095.9 2038.4,1096.8C2039.8,1097.7 2041.2,1098.6 2042.6,1099.5C2044.0,1100.4 2045.5,1101.3 2046.9,1102.1C2048.3,1103.0 2049.7,1103.9 2051.2,1104.7C2052.6,1105.6 2054.0,1106.4 2055.5,1107.2C2056.9,1108.0 2058.4,1108.8 2059.9,1109.6C2061.3,1110.4 2062.8,1111.2 2064.3,1112.0C2065.7,1112.7 2067.2,1113.5 2068.7,1114.2C2070.2,1115.0 2071.7,1115.7 2073.2,1116.4C2074.7,1117.1 2076.2,1117.8 2077.7,1118.5C2079.3,1119.2 2080.8,1119.9 2082.3,1120.5C2083.8,1121.2 2085.4,1121.8 2086.9,1122.5C2088.4,1123.1 2090.0,1123.7 2091.5,1124.3C2093.1,1125.0 2094.6,1125.6 2096.2,1126.1C2097.8,1126.7 2099.3,1127.3 2100.9,1127.9C2102.5,1128.4 2104.0,1129.0 2105.6,1129.5C2107.2,1130.1 2108.8,1130.6 2110.4,1131.1C2111.9,1131.7 2113.5,1132.2 2115.1,1132.7C2116.7,1133.2 2118.3,1133.7 2119.9,1134.2C2121.5,1134.6 2123.1,1135.1 2124.7,1135.6C2126.3,1136.1 2127.9,1136.5 2129.5,1137.0C2131.1,1137.4 2132.8,1137.9 2134.4,1138.3C2136.0,1138.7 2137.6,1139.2 2139.2,1139.6C2140.8,1140.0 2142.4,1140.4 2144.1,1140.8C2145.7,1141.2 2147.3,1141.6 2148.9,1142.0C2150.6,1142.4 2152.2,1142.8 2153.8,1143.2C2155.4,1143.6 2157.1,1143.9 2158.7,1144.3C2160.3,1144.7 2161.9,1145.0 2163.6,1145.4C2165.2,1145.8 2166.8,1146.1 2168.5,1146.5C2170.1,1146.8 2171.7,1147.2 2173.4,1147.5C2175.0,1147.8 2176.6,1148.2 2178.2,1148.5C2179.9,1148.8 2181.5,1149.1 2183.1,1149.5C2184.8,1149.8 2186.4,1150.1 2188.1,1150.4C2189.7,1150.7 2191.3,1151.0 2193.0,1151.3C2194.6,1151.6 2196.2,1151.9 2197.9,1152.2C2199.5,1152.5 2201.2,1152.7 2202.8,1153.0C2204.4,1153.3 2206.1,1153.6 2207.7,1153.8C2209.4,1154.1 2211.0,1154.4 2212.7,1154.6C2214.3,1154.9 2215.9,1155.1 2217.6,1155.4C2219.2,1155.6 2220.9,1155.9 2222.5,1156.1C2224.2,1156.4 2225.8,1156.6 2227.5,1156.8C2229.1,1157.1 2230.8,1157.3 2232.4,1157.5C2234.1,1157.8 2235.7,1158.0 2237.4,1158.2C2239.0,1158.4 2240.7,1158.6 2242.3,1158.9C2244.0,1159.1 2245.6,1159.3 2247.3,1159.5C2248.9,1159.7 2250.6,1159.9 2252.2,1160.1C2253.9,1160.3 2255.5,1160.5 2257.2,1160.7C2258.8,1160.9 2260.5,1161.1 2262.2,1161.2C2263.8,1161.4 2265.5,1161.6 2267.1,1161.8C2268.8,1162.0 2270.4,1162.1 2272.1,1162.3C2273.8,1162.5 2275.4,1162.7 2277.1,1162.8C2278.7,1163.0 2280.4,1163.2 2282.1,1163.3C2283.7,1163.5 2285.4,1163.6 2287.0,1163.8C2288.7,1164.0 2290.4,1164.1 2292.0,1164.3C2293.7,1164.4 2295.3,1164.6 2297.0,1164.7C2298.7,1164.9 2300.3,1165.0 2302.0,1165.1C2303.7,1165.3 2305.3,1165.4 2307.0,1165.6C2308.7,1165.7 2310.3,1165.8 2312.0,1166.0C2313.6,1166.1 2315.3,1166.2 2317.0,1166.4C2318.6,1166.5 2320.3,1166.6 2322.0,1166.7C2323.6,1166.9 2325.3,1167.0 2327.0,1167.1C2328.6,1167.2 2330.3,1167.4 2331.9,1167.5C2333.6,1167.6 2335.3,1167.7 2336.9,1167.8C2338.6,1168.0 2340.3,1168.1 2341.9,1168.2C2343.6,1168.3 2345.3,1168.4 2346.9,1168.5C2348.6,1168.6 2350.2,1168.7 2351.9,1168.9C2353.6,1169.0 2355.2,1169.1 2356.9,1169.2C2358.6,1169.3 2360.2,1169.4 2361.9,1169.5C2363.5,1169.6 2365.2,1169.7 2366.9,1169.8C2368.5,1169.9 2370.2,1170.0 2371.9,1170.1C2373.5,1170.2 2375.2,1170.3 2376.8,1170.4C2378.5,1170.5 2380.8,1170.7 2381.8,1170.7C2382.8,1170.8 2381.5,1170.7 2383.0,1170.8C2384.5,1170.9 2389.7,1171.2 2391.0,1171.3"/>
<path stroke="#ff0000" d="M438.1,833.8C439.4,834.0 444.0,834.7 446.1,835.0C448.2,835.3 449.0,835.6 450.6,835.7C452.2,835.7 454.0,835.4 455.7,835.3C457.4,835.1 459.3,834.7 461.0,834.6C462.8,834.5 464.6,834.4 466.3,834.7C467.9,835.0 469.5,835.4 471.0,836.3C472.4,837.2 473.7,838.7 474.9,840.0C476.2,841.3 477.2,843.2 478.4,844.3C479.5,845.4 480.6,846.4 481.8,846.6C482.9,846.8 484.2,846.2 485.4,845.2C486.7,844.3 488.0,842.7 489.1,841.0C490.3,839.4 491.5,837.2 492.5,835.3C493.5,833.4 494.4,831.3 495.4,829.8C496.4,828.3 497.2,826.8 498.3,826.3C499.3,825.7 500.3,826.0 501.5,826.6C502.7,827.2 504.0,829.0 505.4,830.1C506.8,831.1 508.3,832.5 509.9,833.0C511.5,833.6 513.2,833.7 514.8,833.6C516.5,833.6 518.3,833.0 520.0,832.7C521.7,832.4 523.4,831.8 525.0,831.9C526.7,832.0 528.3,832.4 529.8,833.2C531.4,834.0 532.8,835.6 534.2,836.6C535.6,837.6 537.0,838.8 538.2,839.0C539.5,839.2 540.6,838.6 541.7,837.7C542.9,836.8 543.9,835.0 545.0,833.5C546.2,832.1 547.4,830.3 548.7,829.0C550.0,827.7 551.4,826.6 552.9,825.9C554.3,825.2 555.9,824.8 557.5,824.7C559.1,824.5 560.8,825.0 562.5,825.1C564.2,825.2 565.9,825.5 567.5,825.3C569.2,825.1 570.8,824.2 572.4,823.8C573.9,823.4 575.4,822.7 576.9,822.9C578.4,823.0 579.9,824.1 581.4,824.8C582.9,825.4 584.4,826.5 585.9,826.9C587.5,827.3 589.1,827.1 590.8,827.0C592.4,826.9 594.1,826.4 595.9,826.4C597.6,826.3 599.3,826.5 601.1,826.8C602.8,827.1 604.5,827.8 606.2,828.2C607.9,828.6 609.6,829.2 611.1,829.2C612.7,829.1 614.2,828.8 615.6,828.1C617.1,827.3 618.3,825.8 619.7,824.7C621.0,823.6 622.2,822.0 623.6,821.4C625.0,820.8 626.4,820.8 627.8,821.1C629.3,821.4 630.9,822.9 632.4,823.3C634.0,823.7 635.6,824.0 637.2,823.8C638.8,823.6 640.3,822.5 642.0,822.1C643.6,821.7 645.2,821.2 646.8,821.2C648.5,821.1 650.2,821.8 651.8,822.0C653.4,822.1 655.0,822.3 656.6,822.1C658.2,821.8 659.7,820.9 661.3,820.5C662.9,820.1 664.6,819.5 666.3,819.5C668.0,819.4 669.9,819.8 671.6,820.0C673.3,820.2 675.1,820.7 676.6,820.7C678.2,820.6 679.6,820.4 680.8,819.6C682.1,818.9 683.0,817.5 684.0,816.2C684.9,814.8 685.7,813.0 686.6,811.4C687.5,809.9 688.3,808.2 689.2,806.7C690.1,805.2 691.1,803.9 692.1,802.5C693.1,801.2 694.1,800.0 695.2,798.8C696.2,797.5 697.2,796.3 698.2,795.0C699.3,793.8 700.3,792.5 701.3,791.0C702.3,789.6 703.3,788.0 704.3,786.5C705.3,785.0 706.3,783.2 707.5,782.1C708.6,780.9 709.8,779.9 711.2,779.5C712.5,779.2 714.1,779.6 715.6,780.1C717.2,780.7 718.9,781.8 720.4,782.8C721.9,783.8 723.3,784.9 724.7,786.0C726.1,787.0 727.4,788.1 728.7,789.1C730.0,790.0 731.3,791.0 732.7,791.9C734.0,792.8 735.4,793.6 736.9,794.3C738.4,795.0 739.9,795.7 741.5,796.2C743.0,796.8 744.6,797.3 746.2,797.7C747.8,798.1 749.5,798.4 751.2,798.7C752.8,798.9 754.5,799.1 756.2,799.2C757.9,799.2 759.5,799.2 761.2,799.1C762.9,799.1 764.6,798.9 766.2,798.7C767.9,798.5 769.5,798.2 771.2,797.9C772.8,797.6 774.4,797.2 776.0,796.8C777.6,796.4 779.2,795.9 780.8,795.4C782.4,794.9 784.0,794.4 785.5,793.8C787.1,793.2 788.7,792.6 790.2,792.0C791.7,791.4 793.3,790.7 794.8,790.0C796.3,789.4 797.8,788.7 799.4,788.0C800.9,787.3 802.4,786.6 803.9,785.8C805.4,785.1 806.9,784.4 808.4,783.6C809.9,782.9 811.4,782.2 812.9,781.4C814.4,780.7 815.9,780.0 817.4,779.2C818.9,778.5 820.4,777.8 821.9,777.1C823.4,776.4 825.0,775.7 826.5,775.1C828.0,774.4 829.6,773.8 831.1,773.2C832.7,772.6 834.2,772.0 835.8,771.5C837.3,771.0 838.9,770.4 840.5,770.0C842.1,769.5 843.7,769.1 845.3,768.7C847.0,768.3 848.6,768.0 850.2,767.7C851.9,767.4 853.5,767.1 855.2,766.8C856.9,766.6 858.5,766.3 860.2,766.1C861.8,765.8 863.5,765.6 865.2,765.4C866.8,765.2 868.5,764.9 870.1,764.7C871.8,764.5 873.4,764.2 875.1,764.2C876.7,764.2 878.4,764.2 880.0,764.4C881.7,764.6 883.3,765.0 884.9,765.4C886.5,765.8 888.2,766.4 889.7,767.0C891.3,767.6 892.9,768.3 894.4,769.1C896.0,769.8 897.4,770.7 898.9,771.5C900.3,772.4 901.8,773.3 903.1,774.2C904.5,775.2 905.8,776.1 907.1,777.2C908.4,778.2 909.6,779.3 910.9,780.3C912.1,781.4 913.2,782.6 914.4,783.7C915.5,784.9 916.6,786.1 917.7,787.3C918.8,788.5 919.9,789.8 920.9,791.1C921.9,792.4 922.9,793.7 923.8,795.0C924.8,796.3 925.7,797.7 926.6,799.1C927.6,800.5 928.4,801.9 929.3,803.3C930.2,804.7 931.0,806.2 931.8,807.6C932.6,809.1 933.4,810.5 934.2,812.0C935.0,813.5 935.8,815.0 936.5,816.5C937.3,818.1 938.0,819.6 938.7,821.1C939.4,822.7 940.1,824.2 940.8,825.8C941.5,827.3 942.2,828.9 942.9,830.4C943.5,832.0 944.2,833.5 944.8,835.1C945.5,836.7 946.1,838.2 946.8,839.8C947.4,841.4 948.1,842.9 948.7,844.5C949.3,846.1 949.9,847.6 950.6,849.2C951.2,850.7 951.8,852.3 952.4,853.8C953.1,855.4 953.7,857.0 954.3,858.5C954.9,860.1 955.5,861.6 956.1,863.2C956.7,864.7 957.3,866.3 957.9,867.8C958.5,869.3 959.2,870.9 959.8,872.4C960.4,874.0 961.0,875.5 961.6,877.0C962.2,878.6 962.8,880.1 963.4,881.7C964.0,883.2 964.7,884.7 965.3,886.2C965.9,887.8 966.5,889.3 967.1,890.8C967.8,892.4 968.4,893.9 969.0,895.4C969.7,896.9 970.3,898.4 970.9,900.0C971.6,901.5 972.2,903.0 972.9,904.5C973.5,906.0 974.2,907.5 974.9,909.0C975.5,910.6 976.2,912.1 976.9,913.6C977.6,915.1 978.3,916.6 979.0,918.1C979.7,919.6 980.4,921.1 981.1,922.6C981.8,924.1 982.5,925.6 983.2,927.0C984.0,928.5 984.7,930.0 985.5,931.5C986.2,933.0 987.0,934.5 987.8,936.0C988.6,937.4 989.3,938.9 990.1,940.4C991.0,941.8 991.8,943.3 992.6,944.7C993.4,946.2 994.3,947.6 995.1,949.1C996.0,950.5 996.9,952.0 997.8,953.4C998.7,954.8 999.6,956.2 1000.5,957.6C1001.4,959.0 1002.4,960.4 1003.3,961.8C1004.3,963.2 1005.3,964.6 1006.3,965.9C1007.3,967.3 1008.3,968.7 1009.3,970.0C1010.4,971.3 1011.4,972.7 1012.5,974.0C1013.6,975.3 1014.7,976.6 1015.8,977.9C1017.0,979.2 1018.1,980.4 1019.3,981.6C1020.5,982.9 1021.7,984.1 1022.9,985.2C1024.1,986.3 1025.4,987.4 1026.7,988.5C1028.0,989.5 1029.3,990.5 1030.7,991.4C1032.0,992.4 1033.4,993.2 1034.8,994.0C1036.3,994.8 1037.7,995.5 1039.2,996.1C1040.7,996.7 1042.3,997.3 1043.8,997.7C1045.4,998.1 1047.0,998.5 1048.7,998.7C1050.3,999.0 1052.0,999.1 1053.7,999.2C1055.3,999.3 1057.0,999.3 1058.7,999.2C1060.4,999.1 1062.1,998.9 1063.8,998.7C1065.5,998.5 1067.1,998.2 1068.8,997.8C1070.4,997.4 1072.0,997.0 1073.6,996.5C1075.2,996.0 1076.7,995.4 1078.3,994.8C1079.8,994.2 1081.3,993.6 1082.8,992.9C1084.3,992.1 1085.8,991.4 1087.2,990.6C1088.7,989.8 1090.1,988.9 1091.5,988.0C1092.9,987.1 1094.3,986.2 1095.6,985.2C1097.0,984.3 1098.3,983.3 1099.7,982.3C1101.0,981.2 1102.3,980.2 1103.6,979.1C1104.9,978.0 1106.1,976.9 1107.4,975.8C1108.7,974.7 1109.9,973.5 1111.1,972.3C1112.4,971.2 1113.6,970.0 1114.8,968.8C1116.0,967.6 1117.2,966.5 1118.4,965.3C1119.6,964.1 1120.8,962.9 1121.9,961.6C1123.1,960.4 1124.2,959.2 1125.4,958.0C1126.5,956.8 1127.7,955.6 1128.8,954.3C1129.9,953.1 1131.0,951.8 1132.1,950.6C1133.2,949.4 1134.3,948.1 1135.4,946.9C1136.5,945.6 1137.6,944.3 1138.6,943.1C1139.7,941.8 1140.7,940.5 1141.8,939.2C1142.8,938.0 1143.9,936.7 1144.9,935.4C1146.0,934.1 1147.0,932.8 1148.0,931.5C1149.0,930.2 1150.0,928.9 1151.0,927.6C1152.1,926.3 1153.1,924.9 1154.0,923.6C1155.0,922.3 1156.0,920.9 1157.0,919.6C1158.0,918.3 1159.0,916.9 1159.9,915.6C1160.9,914.2 1161.9,912.9 1162.8,911.5C1163.8,910.2 1164.7,908.8 1165.7,907.4C1166.6,906.1 1167.5,904.7 1168.5,903.3C1169.4,902.0 1170.3,900.6 1171.2,899.2C1172.2,897.8 1173.1,896.4 1174.0,895.0C1174.9,893.6 1175.8,892.2 1176.7,890.8C1177.6,889.4 1178.5,888.0 1179.4,886.6C1180.3,885.2 1181.2,883.8 1182.1,882.4C1182.9,881.0 1183.8,879.6 1184.7,878.2C1185.6,876.7 1186.4,875.3 1187.3,873.9C1188.2,872.5 1189.0,871.0 1189.9,869.6C1190.8,868.2 1191.6,866.7 1192.5,865.3C1193.3,863.9 1194.2,862.4 1195.0,861.0C1195.9,859.5 1196.7,858.1 1197.6,856.7C1198.4,855.2 1199.2,853.8 1200.1,852.3C1200.9,850.9 1201.7,849.4 1202.6,848.0C1203.4,846.5 1204.2,845.0 1205.1,843.6C1205.9,842.1 1206.7,840.7 1207.5,839.2C1208.3,837.8 1209.2,836.3 1210.0,834.8C1210.8,833.4 1211.6,831.9 1212.4,830.5C1213.2,829.0 1214.1,827.5 1214.9,826.1C1215.7,824.6 1216.5,823.1 1217.3,821.7C1218.1,820.2 1218.9,818.7 1219.7,817.3C1220.5,815.8 1221.4,814.4 1222.2,812.9C1223.0,811.4 1223.8,810.0 1224.6,808.5C1225.4,807.0 1226.2,805.6 1227.0,804.1C1227.8,802.6 1228.6,801.2 1229.4,799.7C1230.2,798.2 1231.0,796.8 1231.9,795.3C1232.7,793.9 1233.5,792.4 1234.3,790.9C1235.1,789.5 1235.9,788.0 1236.7,786.6C1237.5,785.1 1238.3,783.7 1239.1,782.2C1239.9,780.7 1240.8,779.3 1241.6,777.8C1242.4,776.4 1243.2,774.9 1244.0,773.5C1244.8,772.0 1245.6,770.6 1246.5,769.1C1247.3,767.7 1248.1,766.2 1248.9,764.8C1249.7,763.3 1250.5,761.9 1251.3,760.4C1252.2,759.0 1253.0,757.5 1253.8,756.1C1254.6,754.6 1255.4,753.2 1256.3,751.8C1257.1,750.3 1257.9,748.9 1258.7,747.4C1259.5,746.0 1260.4,744.5 1261.2,743.1C1262.0,741.7 1262.8,740.2 1263.7,738.8C1264.5,737.3 1265.3,735.9 1266.1,734.4C1267.0,733.0 1267.8,731.6 1268.6,730.1C1269.4,728.7 1270.3,727.3 1271.1,725.8C1271.9,724.4 1272.8,722.9 1273.6,721.5C1274.4,720.1 1275.3,718.6 1276.1,717.2C1276.9,715.8 1277.8,714.3 1278.6,712.9C1279.4,711.5 1280.3,710.0 1281.1,708.6C1281.9,707.2 1282.8,705.7 1283.6,704.3C1284.5,702.9 1285.3,701.4 1286.1,700.0C1287.0,698.6 1287.8,697.1 1288.7,695.7C1289.5,694.3 1290.3,692.8 1291.2,691.4C1292.0,690.0 1292.9,688.6 1293.7,687.1C1294.6,685.7 1295.4,684.3 1296.3,682.8C1297.1,681.4 1298.0,680.0 1298.8,678.6C1299.7,677.1 1300.5,675.7 1301.4,674.3C1302.2,672.8 1303.1,671.4 1304.0,670.0C1304.8,668.6 1305.7,667.1 1306.5,665.7C1307.4,664.3 1308.2,662.9 1309.1,661.4C1310.0,660.0 1310.8,658.6 1311.7,657.2C1312.6,655.7 1313.4,654.3 1314.3,652.9C1315.2,651.5 1316.0,650.0 1316.9,648.6C1317.8,647.2 1318.6,645.8 1319.5,644.3C1320.4,642.9 1321.2,641.5 1322.1,640.1C1323.0,638.6 1323.9,637.2 1324.8,635.8C1325.6,634.4 1326.5,632.9 1327.4,631.5C1328.3,630.1 1329.2,628.7 1330.0,627.2C1330.9,625.8 1331.8,624.4 1332.7,623.0C1333.6,621.5 1334.5,620.1 1335.4,618.7C1336.2,617.3 1337.1,615.8 1338.0,614.4C1338.9,613.0 1339.8,611.6 1340.7,610.1C1341.6,608.7 1342.5,607.3 1343.4,605.9C1344.3,604.5 1345.2,603.1 1346.1,601.6C1347.0,600.2 1348.0,598.8 1348.9,597.4C1349.8,596.0 1350.7,594.6 1351.7,593.2C1352.6,591.8 1353.6,590.4 1354.5,589.1C1355.5,587.7 1356.4,586.3 1357.4,585.0C1358.4,583.6 1359.3,582.2 1360.3,580.9C1361.3,579.5 1362.3,578.2 1363.3,576.9C1364.3,575.5 1365.4,574.2 1366.4,572.9C1367.4,571.6 1368.5,570.3 1369.5,569.0C1370.6,567.8 1371.6,566.5 1372.7,565.2C1373.8,564.0 1374.9,562.7 1376.0,561.5C1377.1,560.3 1378.3,559.1 1379.4,557.9C1380.5,556.7 1381.7,555.5 1382.9,554.3C1384.0,553.1 1385.2,552.0 1386.4,550.9C1387.7,549.7 1388.9,548.6 1390.1,547.5C1391.4,546.4 1392.6,545.4 1393.9,544.3C1395.2,543.2 1396.5,542.2 1397.8,541.2C1399.2,540.2 1400.5,539.2 1401.9,538.2C1403.2,537.2 1404.6,536.3 1406.0,535.4C1407.4,534.4 1408.9,533.5 1410.3,532.7C1411.7,531.8 1413.2,531.0 1414.7,530.1C1416.1,529.3 1417.6,528.6 1419.1,527.8C1420.6,527.1 1422.1,526.3 1423.7,525.7C1425.2,525.0 1426.7,524.3 1428.3,523.7C1429.8,523.1 1431.4,522.5 1433.0,522.0C1434.5,521.5 1436.1,521.0 1437.7,520.5C1439.3,520.1 1440.9,519.7 1442.5,519.3C1444.1,519.0 1445.7,518.6 1447.3,518.4C1448.9,518.1 1450.5,517.9 1452.1,517.7C1453.7,517.5 1455.3,517.4 1456.9,517.3C1458.6,517.3 1460.2,517.3 1461.8,517.3C1463.4,517.3 1465.0,517.4 1466.7,517.5C1468.3,517.7 1469.9,517.9 1471.5,518.1C1473.1,518.3 1474.7,518.6 1476.3,518.9C1477.9,519.2 1479.6,519.6 1481.2,520.0C1482.8,520.4 1484.4,520.8 1486.0,521.3C1487.6,521.8 1489.1,522.3 1490.7,522.8C1492.3,523.4 1493.9,524.0 1495.5,524.6C1497.1,525.2 1498.6,525.8 1500.2,526.5C1501.8,527.1 1503.3,527.8 1504.9,528.5C1506.4,529.2 1508.0,529.9 1509.5,530.7C1511.0,531.4 1512.6,532.2 1514.1,533.0C1515.6,533.8 1517.1,534.6 1518.6,535.4C1520.1,536.2 1521.6,537.0 1523.1,537.9C1524.6,538.7 1526.1,539.5 1527.6,540.4C1529.0,541.2 1530.5,542.1 1531.9,543.0C1533.4,543.8 1534.8,544.7 1536.3,545.6C1537.7,546.5 1539.2,547.3 1540.6,548.2C1542.0,549.1 1543.4,550.0 1544.9,550.9C1546.3,551.8 1547.7,552.7 1549.1,553.6C1550.5,554.5 1551.9,555.4 1553.3,556.3C1554.7,557.3 1556.1,558.2 1557.5,559.1C1558.9,560.0 1560.3,560.9 1561.7,561.8C1563.1,562.7 1564.5,563.6 1565.9,564.5C1567.3,565.4 1568.7,566.3 1570.1,567.2C1571.5,568.1 1572.9,569.0 1574.3,569.8C1575.7,570.7 1577.1,571.6 1578.5,572.4C1579.9,573.3 1581.3,574.2 1582.7,575.0C1584.1,575.9 1585.5,576.7 1586.9,577.5C1588.4,578.4 1589.8,579.2 1591.2,580.0C1592.6,580.8 1594.1,581.6 1595.5,582.4C1596.9,583.2 1598.4,584.0 1599.8,584.7C1601.3,585.5 1602.8,586.2 1604.2,586.9C1605.7,587.7 1607.2,588.4 1608.6,589.1C1610.1,589.8 1611.6,590.4 1613.1,591.1C1614.6,591.8 1616.1,592.4 1617.7,593.0C1619.2,593.7 1620.7,594.3 1622.3,594.8C1623.8,595.4 1625.4,596.0 1626.9,596.5C1628.5,597.1 1630.1,597.6 1631.7,598.1C1633.3,598.6 1634.9,599.0 1636.5,599.5C1638.1,599.9 1639.8,600.3 1641.4,600.7C1643.0,601.1 1644.7,601.5 1646.3,601.8C1648.0,602.2 1649.7,602.5 1651.3,602.8C1653.0,603.1 1654.7,603.3 1656.4,603.5C1658.0,603.8 1659.7,603.9 1661.4,604.1C1663.1,604.3 1664.8,604.4 1666.5,604.5C1668.1,604.6 1669.8,604.6 1671.5,604.7C1673.2,604.7 1674.9,604.7 1676.5,604.6C1678.2,604.6 1679.9,604.5 1681.6,604.4C1683.2,604.3 1684.9,604.1 1686.5,603.9C1688.2,603.7 1689.8,603.5 1691.5,603.2C1693.1,603.0 1694.7,602.6 1696.4,602.3C1698.0,601.9 1699.6,601.5 1701.2,601.1C1702.8,600.7 1704.4,600.2 1705.9,599.7C1707.5,599.2 1709.1,598.7 1710.7,598.1C1712.2,597.6 1713.8,597.0 1715.3,596.4C1716.9,595.8 1718.4,595.1 1719.9,594.5C1721.4,593.8 1723.0,593.1 1724.5,592.4C1726.0,591.7 1727.5,590.9 1729.0,590.2C1730.5,589.4 1731.9,588.7 1733.4,587.9C1734.9,587.1 1736.4,586.3 1737.8,585.5C1739.3,584.7 1740.7,583.8 1742.2,583.0C1743.6,582.2 1745.1,581.3 1746.5,580.5C1748.0,579.6 1749.4,578.7 1750.8,577.9C1752.3,577.0 1753.7,576.2 1755.1,575.3C1756.6,574.5 1758.0,573.6 1759.4,572.8C1760.9,571.9 1762.3,571.1 1763.8,570.3C1765.2,569.4 1766.7,568.6 1768.1,567.8C1769.6,567.0 1771.0,566.2 1772.5,565.5C1773.9,564.7 1775.4,563.9 1776.9,563.2C1778.4,562.5 1779.9,561.8 1781.4,561.1C1782.9,560.4 1784.4,559.7 1785.9,559.0C1787.4,558.3 1788.9,557.6 1790.4,557.0C1792.0,556.3 1793.5,555.6 1795.0,554.9C1796.5,554.3 1798.1,553.6 1799.6,553.0C1801.2,552.3 1802.7,551.7 1804.3,551.0C1805.8,550.4 1807.4,549.8 1809.0,549.2C1810.5,548.6 1812.1,548.0 1813.7,547.4C1815.3,546.9 1816.8,546.3 1818.4,545.8C1820.0,545.3 1821.6,544.8 1823.2,544.3C1824.8,543.8 1826.4,543.4 1828.1,543.0C1829.7,542.6 1831.3,542.2 1832.9,541.8C1834.5,541.5 1836.2,541.2 1837.8,540.9C1839.5,540.6 1841.1,540.4 1842.7,540.2C1844.4,540.0 1846.1,539.8 1847.7,539.7C1849.4,539.6 1851.0,539.5 1852.7,539.4C1854.4,539.4 1856.0,539.4 1857.7,539.4C1859.4,539.4 1861.0,539.5 1862.7,539.6C1864.4,539.7 1866.0,539.9 1867.7,540.0C1869.3,540.2 1871.0,540.4 1872.6,540.7C1874.3,540.9 1875.9,541.2 1877.6,541.5C1879.2,541.9 1880.8,542.2 1882.5,542.6C1884.1,543.0 1885.7,543.4 1887.3,543.9C1888.9,544.4 1890.5,544.8 1892.1,545.4C1893.6,545.9 1895.2,546.5 1896.7,547.1C1898.3,547.7 1899.8,548.3 1901.3,549.0C1902.9,549.6 1904.4,550.3 1905.9,551.1C1907.3,551.8 1908.8,552.5 1910.3,553.3C1911.7,554.1 1913.2,554.9 1914.6,555.8C1916.0,556.6 1917.4,557.5 1918.8,558.4C1920.3,559.3 1921.6,560.2 1923.0,561.1C1924.4,562.1 1925.7,563.0 1927.1,564.0C1928.4,565.0 1929.8,566.0 1931.1,567.0C1932.4,568.0 1933.8,569.1 1935.1,570.1C1936.4,571.2 1937.7,572.2 1938.9,573.3C1940.2,574.4 1941.5,575.5 1942.7,576.6C1944.0,577.7 1945.3,578.8 1946.5,580.0C1947.7,581.1 1949.0,582.2 1950.2,583.4C1951.4,584.5 1952.7,585.7 1953.9,586.8C1955.1,588.0 1956.3,589.1 1957.5,590.3C1958.7,591.5 1959.8,592.7 1961.0,593.8C1962.2,595.0 1963.4,596.2 1964.5,597.4C1965.7,598.6 1966.8,599.8 1968.0,601.0C1969.1,602.2 1970.3,603.4 1971.4,604.7C1972.5,605.9 1973.7,607.1 1974.8,608.3C1975.9,609.6 1977.0,610.8 1978.1,612.1C1979.2,613.3 1980.3,614.6 1981.4,615.8C1982.5,617.1 1983.6,618.3 1984.6,619.6C1985.7,620.9 1986.8,622.1 1987.8,623.4C1988.9,624.7 1990.0,626.0 1991.0,627.3C1992.1,628.6 1993.1,629.8 1994.1,631.1C1995.2,632.4 1996.2,633.7 1997.2,635.0C1998.3,636.4 1999.3,637.7 2000.3,639.0C2001.3,640.3 2002.3,641.6 2003.3,642.9C2004.3,644.3 2005.3,645.6 2006.3,646.9C2007.3,648.3 2008.3,649.6 2009.3,650.9C2010.3,652.3 2011.2,653.6 2012.2,655.0C2013.2,656.3 2014.1,657.7 2015.1,659.0C2016.1,660.4 2017.0,661.7 2018.0,663.1C2018.9,664.5 2019.9,665.8 2020.8,667.2C2021.8,668.6 2022.7,670.0 2023.7,671.3C2024.6,672.7 2025.5,674.1 2026.5,675.5C2027.4,676.8 2028.3,678.2 2029.2,679.6C2030.1,681.0 2031.1,682.4 2032.0,683.8C2032.9,685.2 2033.8,686.6 2034.7,688.0C2035.6,689.4 2036.5,690.8 2037.4,692.2C2038.3,693.6 2039.2,695.0 2040.1,696.4C2041.0,697.8 2041.9,699.2 2042.8,700.6C2043.7,702.0 2044.6,703.5 2045.4,704.9C2046.3,706.3 2047.2,707.7 2048.1,709.1C2049.0,710.5 2049.8,712.0 2050.7,713.4C2051.6,714.8 2052.4,716.2 2053.3,717.6C2054.2,719.1 2055.0,720.5 2055.9,721.9C2056.8,723.3 2057.6,724.8 2058.5,726.2C2059.4,727.6 2060.2,729.1 2061.1,730.5C2061.9,731.9 2062.8,733.3 2063.6,734.8C2064.5,736.2 2065.4,737.6 2066.2,739.1C2067.1,740.5 2067.9,741.9 2068.8,743.4C2069.6,744.8 2070.4,746.3 2071.3,747.7C2072.1,749.1 2073.0,750.6 2073.8,752.0C2074.7,753.4 2075.5,754.9 2076.3,756.3C2077.2,757.8 2078.0,759.2 2078.9,760.7C2079.7,762.1 2080.5,763.5 2081.4,765.0C2082.2,766.4 2083.0,767.9 2083.9,769.3C2084.7,770.8 2085.5,772.2 2086.4,773.6C2087.2,775.1 2088.0,776.5 2088.9,778.0C2089.7,779.4 2090.5,780.9 2091.4,782.3C2092.2,783.8 2093.0,785.2 2093.8,786.7C2094.7,788.1 2095.5,789.5 2096.3,791.0C2097.1,792.4 2098.0,793.9 2098.8,795.3C2099.6,796.8 2100.5,798.2 2101.3,799.7C2102.1,801.1 2102.9,802.6 2103.8,804.0C2104.6,805.5 2105.4,806.9 2106.2,808.4C2107.1,809.8 2107.9,811.3 2108.7,812.7C2109.5,814.2 2110.4,815.6 2111.2,817.1C2112.0,818.5 2112.8,820.0 2113.7,821.4C2114.5,822.9 2115.3,824.3 2116.1,825.8C2117.0,827.2 2117.8,828.6 2118.6,830.1C2119.4,831.5 2120.3,833.0 2121.1,834.4C2121.9,835.9 2122.7,837.3 2123.6,838.8C2124.4,840.2 2125.2,841.7 2126.1,843.1C2126.9,844.6 2127.7,846.0 2128.6,847.4C2129.4,848.9 2130.2,850.3 2131.0,851.8C2131.9,853.2 2132.7,854.7 2133.5,856.1C2134.4,857.5 2135.2,859.0 2136.1,860.4C2136.9,861.9 2137.7,863.3 2138.6,864.7C2139.4,866.2 2140.2,867.6 2141.1,869.1C2141.9,870.5 2142.8,871.9 2143.6,873.4C2144.5,874.8 2145.3,876.2 2146.1,877.7C2147.0,879.1 2147.8,880.5 2148.7,882.0C2149.5,883.4 2150.4,884.8 2151.2,886.3C2152.1,887.7 2153.0,889.1 2153.8,890.6C2154.7,892.0 2155.5,893.4 2156.4,894.8C2157.2,896.3 2158.1,897.7 2159.0,899.1C2159.8,900.5 2160.7,902.0 2161.6,903.4C2162.4,904.8 2163.3,906.2 2164.2,907.6C2165.0,909.1 2165.9,910.5 2166.8,911.9C2167.7,913.3 2168.5,914.7 2169.4,916.2C2170.3,917.6 2171.2,919.0 2172.1,920.4C2172.9,921.8 2173.8,923.2 2174.7,924.6C2175.6,926.0 2176.5,927.4 2177.4,928.8C2178.3,930.2 2179.2,931.6 2180.1,933.0C2181.0,934.5 2181.9,935.9 2182.8,937.2C2183.7,938.6 2184.6,940.0 2185.5,941.4C2186.4,942.8 2187.3,944.2 2188.2,945.6C2189.2,947.0 2190.1,948.4 2191.0,949.8C2191.9,951.2 2192.8,952.6 2193.8,954.0C2194.7,955.3 2195.6,956.7 2196.6,958.1C2197.5,959.5 2198.4,960.9 2199.4,962.2C2200.3,963.6 2201.3,965.0 2202.2,966.4C2203.1,967.7 2204.1,969.1 2205.0,970.5C2206.0,971.8 2207.0,973.2 2207.9,974.6C2208.9,975.9 2209.8,977.3 2210.8,978.7C2211.8,980.0 2212.7,981.4 2213.7,982.7C2214.7,984.1 2215.7,985.4 2216.7,986.8C2217.6,988.1 2218.6,989.5 2219.6,990.8C2220.6,992.2 2221.6,993.5 2222.6,994.9C2223.6,996.2 2224.6,997.5 2225.6,998.9C2226.6,1000.2 2227.6,1001.5 2228.6,1002.9C2229.7,1004.2 2230.7,1005.5 2231.7,1006.8C2232.7,1008.2 2233.7,1009.5 2234.8,1010.8C2235.8,1012.1 2236.9,1013.4 2237.9,1014.7C2238.9,1016.0 2240.0,1017.3 2241.0,1018.6C2242.1,1019.9 2243.1,1021.2 2244.2,1022.5C2245.3,1023.8 2246.3,1025.1 2247.4,1026.3C2248.5,1027.6 2249.5,1028.9 2250.6,1030.2C2251.7,1031.4 2252.8,1032.7 2253.9,1033.9C2255.0,1035.2 2256.1,1036.5 2257.2,1037.7C2258.3,1039.0 2259.4,1040.2 2260.5,1041.4C2261.6,1042.7 2262.7,1043.9 2263.8,1045.1C2265.0,1046.4 2266.1,1047.6 2267.2,1048.8C2268.4,1050.0 2269.5,1051.2 2270.6,1052.4C2271.8,1053.6 2272.9,1054.8 2274.1,1056.0C2275.3,1057.2 2276.4,1058.4 2277.6,1059.6C2278.8,1060.8 2279.9,1061.9 2281.1,1063.1C2282.3,1064.3 2283.5,1065.4 2284.7,1066.6C2285.9,1067.7 2287.1,1068.9 2288.3,1070.0C2289.5,1071.2 2290.7,1072.3 2291.9,1073.4C2293.1,1074.5 2294.3,1075.7 2295.6,1076.8C2296.8,1077.9 2298.0,1079.0 2299.3,1080.1C2300.5,1081.2 2301.8,1082.2 2303.0,1083.3C2304.3,1084.4 2305.6,1085.5 2306.8,1086.5C2308.1,1087.6 2309.4,1088.7 2310.7,1089.7C2311.9,1090.7 2313.2,1091.8 2314.5,1092.8C2315.8,1093.8 2317.1,1094.9 2318.4,1095.9C2319.8,1096.9 2321.1,1097.9 2322.4,1098.9C2323.7,1099.9 2325.1,1100.9 2326.4,1101.8C2327.7,1102.8 2329.1,1103.8 2330.5,1104.7C2331.8,1105.7 2333.2,1106.6 2334.5,1107.6C2335.9,1108.5 2337.3,1109.4 2338.7,1110.4C2340.1,1111.3 2341.5,1112.2 2342.9,1113.1C2344.3,1114.0 2345.7,1114.9 2347.1,1115.8C2348.5,1116.6 2349.9,1117.5 2351.4,1118.4C2352.8,1119.2 2354.3,1120.1 2355.7,1120.9C2357.2,1121.8 2358.6,1122.6 2360.1,1123.4C2361.5,1124.2 2363.0,1125.0 2364.5,1125.8C2366.0,1126.6 2367.5,1127.4 2369.0,1128.2C2370.5,1128.9 2372.0,1129.7 2373.5,1130.5C2375.0,1131.2 2376.5,1131.9 2378.1,1132.7C2379.6,1133.4 2381.9,1134.4 2382.7,1134.8C2383.5,1135.2 2381.7,1134.3 2383.0,1135.0C2384.4,1135.6 2389.7,1138.0 2391.0,1138.6"/>
<path stroke="#000000" d="M438.1,851.8C439.4,851.7 443.9,851.6 446.1,851.5C448.3,851.4 449.5,851.5 451.1,851.3C452.8,851.1 454.4,850.6 456.0,850.3C457.6,849.9 459.2,849.3 460.9,849.0C462.5,848.7 464.1,848.5 465.8,848.3C467.5,848.1 469.1,848.3 470.8,848.0C472.4,847.7 474.1,847.0 475.7,846.5C477.3,846.1 478.9,845.4 480.5,845.4C482.0,845.4 483.6,845.9 485.0,846.7C486.5,847.5 488.0,848.8 489.4,850.1C490.8,851.3 492.1,853.1 493.4,854.2C494.8,855.4 496.1,856.6 497.4,856.9C498.7,857.1 500.0,856.6 501.3,855.8C502.7,855.0 504.0,853.2 505.4,852.2C506.8,851.2 508.2,849.9 509.7,849.6C511.2,849.4 512.8,850.0 514.4,850.5C516.0,851.0 517.6,852.1 519.2,852.5C520.9,852.9 522.6,853.0 524.2,852.9C525.9,852.8 527.6,852.4 529.3,852.1C530.9,851.9 532.6,851.5 534.2,851.5C535.9,851.6 537.5,851.8 539.1,852.5C540.6,853.2 542.2,854.7 543.7,855.5C545.2,856.2 546.7,857.2 548.2,857.1C549.6,857.0 551.1,855.5 552.6,854.7C554.1,854.0 555.6,852.7 557.1,852.7C558.6,852.7 560.2,853.9 561.7,854.6C563.3,855.3 564.8,856.8 566.3,857.0C567.7,857.1 569.1,856.4 570.5,855.6C571.8,854.7 573.1,853.0 574.6,852.0C576.0,850.9 577.4,849.9 579.0,849.4C580.6,848.9 582.3,849.3 584.0,849.0C585.6,848.6 587.4,848.0 588.9,847.3C590.5,846.5 592.1,844.8 593.4,844.4C594.6,844.1 595.7,844.3 596.7,845.2C597.6,846.1 598.3,848.2 599.3,849.8C600.3,851.4 601.2,853.6 602.5,854.7C603.8,855.7 605.7,856.5 607.2,856.4C608.7,856.2 610.0,854.9 611.3,853.8C612.7,852.8 613.8,851.0 615.2,850.2C616.5,849.4 618.1,848.9 619.7,848.9C621.3,848.8 623.1,849.5 624.8,849.9C626.5,850.3 628.3,850.8 629.9,851.3C631.5,851.8 633.1,852.1 634.6,852.9C636.0,853.7 637.4,855.2 638.6,856.4C639.9,857.6 641.0,859.7 642.1,860.2C643.2,860.7 644.3,860.3 645.3,859.4C646.4,858.4 647.4,856.2 648.5,854.6C649.6,853.1 650.7,851.3 651.9,850.0C653.1,848.8 654.4,847.9 655.8,847.0C657.1,846.1 658.5,845.4 660.0,844.6C661.4,843.9 663.0,843.2 664.5,842.4C666.0,841.7 667.5,841.0 669.1,840.3C670.6,839.5 672.1,838.8 673.5,837.9C674.9,837.1 676.4,836.2 677.7,835.1C679.0,834.1 680.2,833.0 681.4,831.9C682.6,830.7 683.7,829.4 684.7,828.1C685.7,826.8 686.7,825.4 687.5,823.9C688.4,822.5 689.2,821.0 690.0,819.5C690.7,818.0 691.4,816.4 691.9,814.9C692.5,813.3 693.1,811.7 693.5,810.1C694.0,808.6 694.4,806.9 694.8,805.3C695.1,803.7 695.4,802.1 695.7,800.4C696.0,798.8 696.3,797.2 696.5,795.5C696.8,793.9 697.0,792.2 697.2,790.5C697.4,788.9 697.6,787.2 697.8,785.6C698.0,783.9 698.2,782.2 698.5,780.6C698.7,778.9 699.0,777.3 699.3,775.7C699.5,774.0 699.8,772.4 700.2,770.7C700.5,769.1 700.8,767.5 701.2,765.8C701.5,764.2 701.9,762.6 702.2,761.0C702.5,759.3 702.9,757.7 703.2,756.1C703.5,754.4 703.8,752.8 704.1,751.1C704.4,749.5 704.7,747.9 705.0,746.2C705.2,744.6 705.5,742.9 705.8,741.3C706.1,739.6 706.4,738.0 706.6,736.3C706.9,734.7 707.2,733.0 707.5,731.4C707.8,729.8 708.0,728.1 708.3,726.5C708.6,724.8 708.9,723.2 709.3,721.6C709.6,719.9 709.9,718.3 710.3,716.7C710.6,715.1 710.9,713.4 711.3,711.8C711.7,710.2 712.1,708.6 712.5,707.0C712.9,705.3 713.3,703.7 713.7,702.1C714.2,700.5 714.6,698.9 715.1,697.3C715.6,695.7 716.1,694.1 716.6,692.5C717.2,691.0 717.7,689.4 718.3,687.8C718.9,686.2 719.5,684.6 720.1,683.1C720.8,681.5 721.4,679.9 722.2,678.4C723.0,677.0 723.9,675.5 724.9,674.2C725.9,672.9 727.0,671.7 728.3,670.7C729.6,669.6 731.1,668.7 732.7,668.0C734.2,667.3 735.9,666.8 737.5,666.4C739.2,666.1 740.9,666.0 742.5,666.0C744.2,666.0 745.8,666.3 747.4,666.7C749.0,667.0 750.6,667.6 752.2,668.2C753.7,668.9 755.2,669.7 756.7,670.5C758.2,671.4 759.7,672.3 761.1,673.3C762.4,674.3 763.8,675.3 765.1,676.4C766.4,677.5 767.6,678.6 768.8,679.7C770.0,680.9 771.2,682.0 772.3,683.3C773.4,684.5 774.4,685.7 775.5,687.0C776.5,688.3 777.5,689.6 778.4,691.0C779.4,692.3 780.3,693.7 781.2,695.1C782.1,696.5 782.9,698.0 783.8,699.4C784.6,700.9 785.4,702.4 786.2,703.9C787.0,705.4 787.8,706.9 788.6,708.3C789.3,709.8 790.1,711.3 790.9,712.8C791.6,714.3 792.4,715.8 793.1,717.3C793.8,718.8 794.5,720.3 795.2,721.8C795.9,723.4 796.6,724.9 797.3,726.4C798.0,727.9 798.6,729.4 799.3,731.0C799.9,732.5 800.5,734.0 801.2,735.6C801.8,737.1 802.4,738.6 803.0,740.2C803.5,741.7 804.1,743.3 804.7,744.9C805.2,746.4 805.8,748.0 806.3,749.6C806.9,751.1 807.4,752.7 807.9,754.3C808.4,755.9 808.9,757.5 809.4,759.0C809.9,760.6 810.4,762.2 810.9,763.8C811.4,765.4 811.8,767.0 812.3,768.6C812.8,770.2 813.2,771.8 813.7,773.4C814.1,775.0 814.6,776.6 815.0,778.2C815.5,779.9 815.9,781.5 816.4,783.1C816.8,784.7 817.2,786.3 817.7,787.9C818.1,789.5 818.5,791.1 819.0,792.8C819.4,794.4 819.9,796.0 820.3,797.6C820.7,799.2 821.2,800.8 821.6,802.4C822.0,804.1 822.5,805.7 822.9,807.3C823.4,808.9 823.8,810.5 824.3,812.1C824.7,813.7 825.2,815.3 825.6,816.9C826.1,818.5 826.6,820.1 827.1,821.7C827.5,823.3 828.0,824.9 828.5,826.5C829.0,828.1 829.4,829.7 829.9,831.3C830.4,832.9 830.9,834.5 831.4,836.1C831.9,837.7 832.4,839.3 832.9,840.8C833.3,842.4 833.8,844.0 834.3,845.6C834.8,847.2 835.3,848.8 835.8,850.4C836.3,852.0 836.8,853.6 837.3,855.2C837.8,856.7 838.2,858.3 838.7,859.9C839.2,861.5 839.7,863.1 840.2,864.7C840.7,866.3 841.1,867.9 841.6,869.5C842.1,871.1 842.5,872.7 843.0,874.3C843.5,875.9 843.9,877.5 844.4,879.1C844.8,880.7 845.3,882.3 845.7,883.9C846.2,885.5 846.6,887.1 847.0,888.7C847.5,890.3 847.9,891.9 848.3,893.5C848.7,895.1 849.2,896.8 849.6,898.4C850.0,900.0 850.4,901.6 850.8,903.2C851.3,904.8 851.7,906.4 852.1,908.0C852.6,909.6 853.0,911.3 853.5,912.9C854.0,914.5 854.4,916.1 854.9,917.7C855.4,919.3 855.9,920.9 856.4,922.5C856.9,924.0 857.4,925.6 858.0,927.2C858.5,928.8 859.1,930.4 859.7,931.9C860.3,933.5 860.9,935.1 861.5,936.6C862.1,938.2 862.7,939.7 863.4,941.3C864.1,942.8 864.7,944.3 865.4,945.9C866.1,947.4 866.8,948.9 867.6,950.4C868.3,951.9 869.1,953.4 869.8,954.9C870.6,956.3 871.4,957.8 872.2,959.3C873.1,960.7 873.9,962.2 874.8,963.6C875.7,965.0 876.5,966.4 877.5,967.8C878.4,969.2 879.3,970.6 880.3,972.0C881.2,973.4 882.2,974.7 883.2,976.1C884.3,977.4 885.3,978.7 886.4,980.0C887.4,981.3 888.5,982.6 889.6,983.8C890.8,985.0 891.9,986.2 893.1,987.4C894.3,988.6 895.5,989.7 896.7,990.8C898.0,991.8 899.3,992.9 900.6,993.8C901.9,994.8 903.2,995.7 904.6,996.6C906.0,997.5 907.4,998.3 908.8,999.0C910.3,999.8 911.8,1000.4 913.3,1001.1C914.8,1001.7 916.4,1002.2 917.9,1002.7C919.5,1003.1 921.2,1003.5 922.8,1003.9C924.4,1004.2 926.1,1004.5 927.8,1004.7C929.5,1005.0 931.2,1005.1 932.9,1005.3C934.6,1005.4 936.3,1005.5 938.0,1005.5C939.8,1005.6 941.5,1005.6 943.2,1005.6C944.9,1005.6 946.7,1005.5 948.4,1005.4C950.1,1005.3 951.8,1005.2 953.5,1005.1C955.2,1005.0 956.8,1004.8 958.5,1004.6C960.2,1004.4 961.8,1004.2 963.5,1004.0C965.2,1003.7 966.8,1003.5 968.5,1003.2C970.1,1002.9 971.7,1002.6 973.4,1002.2C975.0,1001.9 976.6,1001.5 978.2,1001.1C979.8,1000.7 981.4,1000.3 983.0,999.9C984.6,999.4 986.2,999.0 987.8,998.5C989.3,998.0 990.9,997.5 992.5,997.0C994.0,996.4 995.6,995.9 997.1,995.3C998.6,994.7 1000.2,994.1 1001.7,993.5C1003.2,992.9 1004.7,992.3 1006.2,991.6C1007.7,990.9 1009.2,990.3 1010.7,989.6C1012.2,988.9 1013.7,988.2 1015.2,987.4C1016.7,986.7 1018.1,985.9 1019.6,985.1C1021.0,984.4 1022.5,983.6 1023.9,982.8C1025.3,982.0 1026.8,981.1 1028.2,980.3C1029.6,979.4 1031.0,978.6 1032.4,977.7C1033.8,976.8 1035.2,975.9 1036.6,975.0C1038.0,974.1 1039.4,973.2 1040.7,972.2C1042.1,971.3 1043.5,970.3 1044.8,969.3C1046.2,968.4 1047.5,967.4 1048.8,966.4C1050.2,965.4 1051.5,964.3 1052.8,963.3C1054.1,962.3 1055.4,961.2 1056.7,960.2C1058.0,959.1 1059.3,958.1 1060.6,957.0C1061.9,955.9 1063.1,954.8 1064.4,953.7C1065.7,952.6 1066.9,951.5 1068.2,950.3C1069.4,949.2 1070.6,948.1 1071.9,946.9C1073.1,945.8 1074.3,944.6 1075.5,943.4C1076.7,942.3 1077.9,941.1 1079.1,939.9C1080.3,938.7 1081.5,937.5 1082.6,936.3C1083.8,935.1 1085.0,933.9 1086.1,932.7C1087.3,931.5 1088.4,930.2 1089.5,929.0C1090.7,927.8 1091.8,926.5 1092.9,925.3C1094.0,924.0 1095.1,922.8 1096.2,921.5C1097.3,920.2 1098.4,919.0 1099.5,917.7C1100.6,916.4 1101.6,915.1 1102.7,913.8C1103.8,912.6 1104.8,911.3 1105.9,910.0C1106.9,908.7 1107.9,907.4 1109.0,906.0C1110.0,904.7 1111.0,903.4 1112.0,902.1C1113.0,900.8 1114.0,899.4 1115.0,898.1C1116.0,896.8 1117.0,895.4 1118.0,894.1C1119.0,892.8 1119.9,891.4 1120.9,890.1C1121.9,888.7 1122.8,887.3 1123.8,886.0C1124.7,884.6 1125.7,883.3 1126.6,881.9C1127.5,880.5 1128.5,879.1 1129.4,877.8C1130.3,876.4 1131.2,875.0 1132.1,873.6C1133.0,872.2 1133.9,870.8 1134.8,869.4C1135.7,868.0 1136.6,866.6 1137.5,865.2C1138.4,863.8 1139.3,862.4 1140.1,861.0C1141.0,859.5 1141.9,858.1 1142.7,856.7C1143.6,855.3 1144.4,853.9 1145.3,852.4C1146.1,851.0 1147.0,849.6 1147.8,848.1C1148.6,846.7 1149.5,845.2 1150.3,843.8C1151.1,842.4 1151.9,840.9 1152.7,839.5C1153.6,838.0 1154.4,836.6 1155.2,835.1C1156.0,833.6 1156.8,832.2 1157.6,830.7C1158.4,829.3 1159.2,827.8 1159.9,826.3C1160.7,824.9 1161.5,823.4 1162.3,821.9C1163.1,820.4 1163.8,819.0 1164.6,817.5C1165.4,816.0 1166.2,814.5 1166.9,813.0C1167.7,811.6 1168.4,810.1 1169.2,808.6C1169.9,807.1 1170.7,805.6 1171.4,804.1C1172.2,802.6 1172.9,801.1 1173.7,799.6C1174.4,798.1 1175.2,796.6 1175.9,795.1C1176.6,793.6 1177.4,792.1 1178.1,790.6C1178.8,789.1 1179.5,787.6 1180.3,786.1C1181.0,784.6 1181.7,783.1 1182.4,781.6C1183.2,780.1 1183.9,778.6 1184.6,777.1C1185.3,775.6 1186.0,774.1 1186.7,772.6C1187.4,771.1 1188.2,769.6 1188.9,768.0C1189.6,766.5 1190.3,765.0 1191.0,763.5C1191.7,762.0 1192.4,760.5 1193.1,759.0C1193.8,757.5 1194.5,755.9 1195.2,754.4C1195.9,752.9 1196.6,751.4 1197.3,749.9C1198.0,748.4 1198.7,746.8 1199.4,745.3C1200.1,743.8 1200.8,742.3 1201.5,740.8C1202.1,739.3 1202.8,737.7 1203.5,736.2C1204.2,734.7 1204.9,733.2 1205.6,731.7C1206.3,730.2 1207.0,728.6 1207.7,727.1C1208.3,725.6 1209.0,724.1 1209.7,722.6C1210.4,721.0 1211.1,719.5 1211.8,718.0C1212.4,716.5 1213.1,715.0 1213.8,713.4C1214.5,711.9 1215.2,710.4 1215.8,708.9C1216.5,707.4 1217.2,705.8 1217.9,704.3C1218.5,702.8 1219.2,701.3 1219.9,699.8C1220.6,698.2 1221.2,696.7 1221.9,695.2C1222.6,693.7 1223.3,692.1 1223.9,690.6C1224.6,689.1 1225.3,687.6 1226.0,686.1C1226.6,684.5 1227.3,683.0 1228.0,681.5C1228.6,680.0 1229.3,678.4 1230.0,676.9C1230.6,675.4 1231.3,673.9 1232.0,672.3C1232.6,670.8 1233.3,669.3 1234.0,667.8C1234.6,666.2 1235.3,664.7 1236.0,663.2C1236.6,661.6 1237.3,660.1 1238.0,658.6C1238.6,657.1 1239.3,655.5 1240.0,654.0C1240.6,652.5 1241.3,651.0 1241.9,649.4C1242.6,647.9 1243.3,646.4 1243.9,644.8C1244.6,643.3 1245.3,641.8 1245.9,640.3C1246.6,638.7 1247.2,637.2 1247.9,635.7C1248.6,634.2 1249.2,632.6 1249.9,631.1C1250.5,629.6 1251.2,628.0 1251.9,626.5C1252.5,625.0 1253.2,623.4 1253.8,621.9C1254.5,620.4 1255.2,618.9 1255.8,617.3C1256.5,615.8 1257.2,614.3 1257.8,612.7C1258.5,611.2 1259.1,609.7 1259.8,608.1C1260.5,606.6 1261.1,605.1 1261.8,603.6C1262.4,602.0 1263.1,600.5 1263.7,599.0C1264.4,597.4 1265.1,595.9 1265.7,594.4C1266.4,592.8 1267.0,591.3 1267.7,589.8C1268.4,588.2 1269.0,586.7 1269.7,585.2C1270.3,583.6 1271.0,582.1 1271.6,580.6C1272.3,579.0 1272.9,577.5 1273.6,576.0C1274.3,574.4 1274.9,572.9 1275.6,571.4C1276.2,569.8 1276.9,568.3 1277.5,566.8C1278.2,565.2 1278.8,563.7 1279.5,562.2C1280.1,560.6 1280.8,559.1 1281.4,557.6C1282.1,556.0 1282.7,554.5 1283.4,552.9C1284.0,551.4 1284.7,549.9 1285.3,548.3C1285.9,546.8 1286.6,545.3 1287.2,543.7C1287.9,542.2 1288.5,540.6 1289.1,539.1C1289.8,537.6 1290.4,536.0 1291.1,534.5C1291.7,532.9 1292.3,531.4 1293.0,529.9C1293.6,528.3 1294.2,526.8 1294.9,525.2C1295.5,523.7 1296.1,522.2 1296.8,520.6C1297.4,519.1 1298.0,517.5 1298.6,516.0C1299.3,514.5 1299.9,512.9 1300.5,511.4C1301.1,509.8 1301.8,508.3 1302.4,506.7C1303.0,505.2 1303.6,503.7 1304.2,502.1C1304.9,500.6 1305.5,499.0 1306.1,497.5C1306.7,495.9 1307.3,494.4 1307.9,492.8C1308.5,491.3 1309.2,489.7 1309.8,488.2C1310.4,486.7 1311.0,485.1 1311.6,483.6C1312.2,482.0 1312.8,480.5 1313.4,478.9C1314.1,477.4 1314.7,475.8 1315.3,474.3C1315.9,472.7 1316.5,471.2 1317.1,469.6C1317.7,468.1 1318.3,466.6 1319.0,465.0C1319.6,463.5 1320.2,461.9 1320.8,460.4C1321.4,458.8 1322.0,457.3 1322.7,455.7C1323.3,454.2 1323.9,452.6 1324.5,451.1C1325.1,449.6 1325.8,448.0 1326.4,446.5C1327.0,444.9 1327.6,443.4 1328.3,441.8C1328.9,440.3 1329.5,438.8 1330.2,437.2C1330.8,435.7 1331.4,434.1 1332.1,432.6C1332.7,431.1 1333.3,429.5 1334.0,428.0C1334.6,426.4 1335.3,424.9 1335.9,423.4C1336.5,421.8 1337.2,420.3 1337.8,418.8C1338.5,417.2 1339.1,415.7 1339.8,414.2C1340.4,412.6 1341.1,411.1 1341.7,409.6C1342.4,408.0 1343.1,406.5 1343.7,405.0C1344.4,403.4 1345.0,401.9 1345.7,400.4C1346.4,398.8 1347.0,397.3 1347.7,395.8C1348.4,394.2 1349.0,392.7 1349.7,391.2C1350.4,389.6 1351.0,388.1 1351.7,386.6C1352.4,385.1 1353.1,383.5 1353.7,382.0C1354.4,380.5 1355.1,378.9 1355.8,377.4C1356.4,375.9 1357.1,374.4 1357.8,372.8C1358.5,371.3 1359.2,369.8 1359.8,368.3C1360.5,366.7 1361.2,365.2 1361.9,363.7C1362.6,362.2 1363.3,360.6 1363.9,359.1C1364.6,357.6 1365.3,356.1 1366.0,354.6C1366.7,353.0 1367.4,351.5 1368.1,350.0C1368.8,348.5 1369.4,347.0 1370.1,345.4C1370.8,343.9 1371.5,342.4 1372.2,340.9C1372.9,339.4 1373.6,337.8 1374.3,336.3C1375.0,334.8 1375.7,333.3 1376.4,331.8C1377.1,330.3 1377.8,328.7 1378.5,327.2C1379.2,325.7 1379.9,324.2 1380.5,322.7C1381.2,321.2 1381.9,319.6 1382.6,318.1C1383.3,316.6 1384.0,315.1 1384.7,313.6C1385.4,312.1 1386.1,310.6 1386.8,309.0C1387.5,307.5 1388.2,306.0 1388.9,304.5C1389.6,303.0 1390.3,301.5 1391.0,300.0C1391.7,298.5 1392.4,296.9 1393.1,295.4C1393.8,293.9 1394.5,292.4 1395.2,290.9C1395.9,289.4 1396.6,287.9 1397.3,286.4C1398.0,284.9 1398.7,283.4 1399.4,281.9C1400.1,280.4 1400.8,278.8 1401.5,277.3C1402.2,275.8 1402.9,274.3 1403.6,272.8C1404.3,271.3 1405.0,269.8 1405.7,268.3C1406.5,266.8 1407.2,265.3 1407.9,263.8C1408.6,262.3 1409.3,260.8 1410.0,259.3C1410.7,257.8 1411.4,256.3 1412.2,254.8C1412.9,253.3 1413.6,251.8 1414.3,250.3C1415.1,248.9 1415.8,247.4 1416.5,245.9C1417.3,244.4 1418.0,242.9 1418.7,241.4C1419.5,239.9 1420.2,238.4 1421.0,237.0C1421.7,235.5 1422.5,234.0 1423.2,232.5C1424.0,231.0 1424.7,229.6 1425.5,228.1C1426.3,226.6 1427.0,225.1 1427.8,223.7C1428.6,222.2 1429.4,220.7 1430.1,219.3C1430.9,217.8 1431.7,216.3 1432.5,214.9C1433.3,213.4 1434.1,212.0 1434.9,210.5C1435.7,209.0 1436.5,207.6 1437.3,206.1C1438.2,204.7 1439.0,203.2 1439.8,201.8C1440.6,200.3 1441.5,198.9 1442.3,197.5C1443.2,196.0 1444.0,194.6 1444.9,193.1C1445.7,191.7 1446.6,190.3 1447.5,188.9C1448.3,187.4 1449.2,186.0 1450.1,184.6C1451.0,183.2 1451.9,181.7 1452.8,180.3C1453.7,178.9 1454.6,177.5 1455.5,176.1C1456.4,174.7 1457.4,173.3 1458.3,171.9C1459.2,170.5 1460.2,169.1 1461.1,167.7C1462.1,166.3 1463.1,164.9 1464.0,163.5C1465.0,162.1 1466.0,160.8 1467.0,159.4C1468.0,158.1 1469.0,156.7 1470.0,155.4C1471.0,154.0 1472.0,152.7 1473.1,151.4C1474.1,150.0 1475.2,148.7 1476.2,147.4C1477.3,146.1 1478.4,144.8 1479.5,143.6C1480.5,142.3 1481.6,141.0 1482.8,139.8C1483.9,138.5 1485.0,137.3 1486.1,136.1C1487.3,134.9 1488.4,133.7 1489.6,132.5C1490.7,131.3 1491.9,130.2 1493.1,129.1C1494.3,127.9 1495.5,126.8 1496.7,125.7C1498.0,124.6 1499.2,123.5 1500.5,122.5C1501.7,121.4 1503.0,120.4 1504.3,119.4C1505.6,118.4 1506.9,117.4 1508.2,116.4C1509.5,115.4 1510.8,114.5 1512.2,113.6C1513.5,112.7 1514.9,111.8 1516.3,111.0C1517.7,110.2 1519.1,109.4 1520.6,108.7C1522.0,107.9 1523.5,107.2 1525.0,106.6C1526.5,105.9 1528.0,105.3 1529.6,104.8C1531.1,104.2 1532.7,103.8 1534.3,103.3C1535.9,102.9 1537.5,102.6 1539.2,102.3C1540.9,102.0 1542.6,101.7 1544.3,101.6C1546.1,101.4 1547.8,101.4 1549.6,101.4C1551.4,101.3 1553.2,101.4 1554.9,101.5C1556.7,101.7 1558.5,101.9 1560.2,102.1C1562.0,102.4 1563.7,102.7 1565.4,103.1C1567.1,103.5 1568.7,104.0 1570.3,104.5C1571.9,105.1 1573.4,105.7 1574.9,106.3C1576.4,107.0 1577.9,107.7 1579.3,108.5C1580.8,109.3 1582.2,110.1 1583.5,111.0C1584.9,111.9 1586.2,112.8 1587.5,113.8C1588.8,114.7 1590.0,115.8 1591.2,116.8C1592.5,117.9 1593.7,119.0 1594.8,120.1C1596.0,121.3 1597.1,122.4 1598.3,123.6C1599.4,124.8 1600.5,126.1 1601.5,127.3C1602.6,128.6 1603.7,129.9 1604.7,131.2C1605.7,132.5 1606.8,133.8 1607.8,135.1C1608.8,136.5 1609.8,137.8 1610.7,139.2C1611.7,140.5 1612.7,141.9 1613.6,143.3C1614.6,144.7 1615.6,146.1 1616.5,147.4C1617.4,148.8 1618.4,150.2 1619.3,151.6C1620.2,153.0 1621.2,154.4 1622.1,155.8C1623.0,157.2 1623.9,158.6 1624.8,160.0C1625.7,161.4 1626.6,162.9 1627.5,164.3C1628.4,165.7 1629.2,167.1 1630.1,168.5C1631.0,169.9 1631.9,171.4 1632.7,172.8C1633.6,174.2 1634.4,175.7 1635.3,177.1C1636.1,178.5 1637.0,180.0 1637.8,181.4C1638.6,182.9 1639.5,184.3 1640.3,185.8C1641.1,187.2 1641.9,188.6 1642.7,190.1C1643.5,191.6 1644.3,193.0 1645.1,194.5C1645.9,195.9 1646.7,197.4 1647.5,198.9C1648.3,200.3 1649.1,201.8 1649.9,203.3C1650.6,204.7 1651.4,206.2 1652.2,207.7C1652.9,209.2 1653.7,210.6 1654.4,212.1C1655.2,213.6 1655.9,215.1 1656.7,216.6C1657.4,218.1 1658.2,219.6 1658.9,221.1C1659.6,222.5 1660.4,224.0 1661.1,225.5C1661.8,227.0 1662.5,228.5 1663.2,230.0C1663.9,231.5 1664.6,233.0 1665.3,234.6C1666.0,236.1 1666.7,237.6 1667.4,239.1C1668.1,240.6 1668.8,242.1 1669.5,243.6C1670.2,245.1 1670.9,246.7 1671.5,248.2C1672.2,249.7 1672.9,251.2 1673.5,252.7C1674.2,254.3 1674.9,255.8 1675.5,257.3C1676.2,258.9 1676.8,260.4 1677.5,261.9C1678.1,263.4 1678.8,265.0 1679.4,266.5C1680.0,268.1 1680.7,269.6 1681.3,271.1C1681.9,272.7 1682.6,274.2 1683.2,275.8C1683.8,277.3 1684.4,278.8 1685.1,280.4C1685.7,281.9 1686.3,283.5 1686.9,285.0C1687.5,286.6 1688.1,288.1 1688.7,289.7C1689.3,291.2 1689.9,292.8 1690.5,294.4C1691.1,295.9 1691.7,297.5 1692.3,299.0C1692.9,300.6 1693.5,302.2 1694.0,303.7C1694.6,305.3 1695.2,306.8 1695.8,308.4C1696.4,310.0 1696.9,311.5 1697.5,313.1C1698.1,314.7 1698.7,316.2 1699.2,317.8C1699.8,319.4 1700.4,320.9 1700.9,322.5C1701.5,324.1 1702.0,325.7 1702.6,327.2C1703.1,328.8 1703.7,330.4 1704.2,332.0C1704.8,333.5 1705.4,335.1 1705.9,336.7C1706.4,338.3 1707.0,339.8 1707.5,341.4C1708.1,343.0 1708.6,344.6 1709.2,346.2C1709.7,347.7 1710.2,349.3 1710.8,350.9C1711.3,352.5 1711.8,354.1 1712.4,355.7C1712.9,357.2 1713.4,358.8 1714.0,360.4C1714.5,362.0 1715.0,363.6 1715.5,365.2C1716.1,366.7 1716.6,368.3 1717.1,369.9C1717.6,371.5 1718.2,373.1 1718.7,374.7C1719.2,376.3 1719.7,377.9 1720.2,379.4C1720.7,381.0 1721.3,382.6 1721.8,384.2C1722.3,385.8 1722.8,387.4 1723.3,389.0C1723.8,390.6 1724.3,392.2 1724.9,393.7C1725.4,395.3 1725.9,396.9 1726.4,398.5C1726.9,400.1 1727.4,401.7 1727.9,403.3C1728.4,404.9 1728.9,406.5 1729.5,408.0C1730.0,409.6 1730.5,411.2 1731.0,412.8C1731.5,414.4 1732.0,416.0 1732.5,417.6C1733.0,419.2 1733.5,420.8 1734.0,422.3C1734.5,423.9 1735.0,425.5 1735.5,427.1C1736.0,428.7 1736.5,430.3 1737.0,431.9C1737.6,433.5 1738.1,435.1 1738.6,436.6C1739.1,438.2 1739.6,439.8 1740.1,441.4C1740.6,443.0 1741.1,444.6 1741.6,446.2C1742.1,447.8 1742.6,449.4 1743.1,451.0C1743.6,452.5 1744.1,454.1 1744.6,455.7C1745.1,457.3 1745.6,458.9 1746.1,460.5C1746.6,462.1 1747.1,463.7 1747.6,465.3C1748.1,466.8 1748.6,468.4 1749.1,470.0C1749.6,471.6 1750.1,473.2 1750.6,474.8C1751.1,476.4 1751.6,478.0 1752.0,479.6C1752.5,481.1 1753.0,482.7 1753.5,484.3C1754.0,485.9 1754.5,487.5 1755.0,489.1C1755.5,490.7 1756.0,492.3 1756.5,493.9C1757.0,495.4 1757.5,497.0 1758.0,498.6C1758.5,500.2 1759.0,501.8 1759.5,503.4C1760.0,505.0 1760.5,506.6 1761.0,508.2C1761.5,509.8 1762.0,511.3 1762.4,512.9C1762.9,514.5 1763.4,516.1 1763.9,517.7C1764.4,519.3 1764.9,520.9 1765.4,522.5C1765.9,524.1 1766.4,525.6 1766.9,527.2C1767.4,528.8 1767.9,530.4 1768.4,532.0C1768.9,533.6 1769.4,535.2 1769.9,536.8C1770.3,538.4 1770.8,539.9 1771.3,541.5C1771.8,543.1 1772.3,544.7 1772.8,546.3C1773.3,547.9 1773.8,549.5 1774.3,551.1C1774.8,552.7 1775.3,554.2 1775.8,555.8C1776.3,557.4 1776.8,559.0 1777.2,560.6C1777.7,562.2 1778.2,563.8 1778.7,565.4C1779.2,567.0 1779.7,568.6 1780.2,570.1C1780.7,571.7 1781.2,573.3 1781.7,574.9C1782.2,576.5 1782.7,578.1 1783.2,579.7C1783.7,581.3 1784.2,582.9 1784.7,584.4C1785.1,586.0 1785.6,587.6 1786.1,589.2C1786.6,590.8 1787.1,592.4 1787.6,594.0C1788.1,595.6 1788.6,597.2 1789.1,598.7C1789.6,600.3 1790.1,601.9 1790.6,603.5C1791.1,605.1 1791.6,606.7 1792.1,608.3C1792.6,609.9 1793.1,611.5 1793.6,613.0C1794.1,614.6 1794.6,616.2 1795.1,617.8C1795.6,619.4 1796.0,621.0 1796.5,622.6C1797.0,624.2 1797.5,625.8 1798.0,627.3C1798.5,628.9 1799.0,630.5 1799.5,632.1C1800.0,633.7 1800.5,635.3 1801.0,636.9C1801.5,638.5 1802.0,640.1 1802.5,641.6C1803.0,643.2 1803.5,644.8 1804.0,646.4C1804.5,648.0 1805.0,649.6 1805.5,651.2C1806.0,652.8 1806.5,654.4 1807.0,655.9C1807.5,657.5 1808.0,659.1 1808.5,660.7C1809.1,662.3 1809.6,663.9 1810.1,665.5C1810.6,667.1 1811.1,668.6 1811.6,670.2C1812.1,671.8 1812.6,673.4 1813.1,675.0C1813.6,676.6 1814.1,678.2 1814.6,679.8C1815.1,681.4 1815.6,682.9 1816.1,684.5C1816.6,686.1 1817.1,687.7 1817.7,689.3C1818.2,690.9 1818.7,692.5 1819.2,694.1C1819.7,695.7 1820.2,697.2 1820.7,698.8C1821.2,700.4 1821.7,702.0 1822.2,703.6C1822.8,705.2 1823.3,706.8 1823.8,708.4C1824.3,709.9 1824.8,711.5 1825.3,713.1C1825.8,714.7 1826.4,716.3 1826.9,717.9C1827.4,719.5 1827.9,721.1 1828.4,722.7C1828.9,724.2 1829.5,725.8 1830.0,727.4C1830.5,729.0 1831.0,730.6 1831.5,732.2C1832.1,733.8 1832.6,735.3 1833.1,736.9C1833.6,738.5 1834.2,740.1 1834.7,741.7C1835.2,743.3 1835.7,744.9 1836.3,746.4C1836.8,748.0 1837.3,749.6 1837.9,751.2C1838.4,752.8 1838.9,754.4 1839.5,756.0C1840.0,757.5 1840.5,759.1 1841.1,760.7C1841.6,762.3 1842.1,763.9 1842.7,765.4C1843.2,767.0 1843.8,768.6 1844.3,770.2C1844.8,771.8 1845.4,773.3 1845.9,774.9C1846.5,776.5 1847.0,778.1 1847.6,779.7C1848.1,781.2 1848.7,782.8 1849.2,784.4C1849.8,786.0 1850.3,787.5 1850.9,789.1C1851.5,790.7 1852.0,792.3 1852.6,793.8C1853.1,795.4 1853.7,797.0 1854.3,798.5C1854.8,800.1 1855.4,801.7 1856.0,803.3C1856.5,804.8 1857.1,806.4 1857.7,808.0C1858.2,809.5 1858.8,811.1 1859.4,812.7C1860.0,814.2 1860.6,815.8 1861.1,817.4C1861.7,818.9 1862.3,820.5 1862.9,822.0C1863.5,823.6 1864.1,825.2 1864.7,826.7C1865.2,828.3 1865.8,829.8 1866.4,831.4C1867.0,833.0 1867.6,834.5 1868.2,836.1C1868.8,837.6 1869.4,839.2 1870.0,840.7C1870.7,842.3 1871.3,843.8 1871.9,845.4C1872.5,846.9 1873.1,848.5 1873.7,850.0C1874.3,851.6 1875.0,853.1 1875.6,854.7C1876.2,856.2 1876.8,857.7 1877.5,859.3C1878.1,860.8 1878.7,862.4 1879.4,863.9C1880.0,865.4 1880.6,867.0 1881.3,868.5C1881.9,870.1 1882.6,871.6 1883.2,873.1C1883.9,874.7 1884.5,876.2 1885.2,877.7C1885.8,879.3 1886.5,880.8 1887.1,882.3C1887.8,883.8 1888.5,885.4 1889.1,886.9C1889.8,888.4 1890.5,889.9 1891.1,891.4C1891.8,893.0 1892.5,894.5 1893.2,896.0C1893.9,897.5 1894.5,899.0 1895.2,900.5C1895.9,902.1 1896.6,903.6 1897.3,905.1C1898.0,906.6 1898.7,908.1 1899.4,909.6C1900.1,911.1 1900.8,912.6 1901.5,914.1C1902.2,915.6 1903.0,917.1 1903.7,918.6C1904.4,920.1 1905.1,921.6 1905.8,923.1C1906.6,924.6 1907.3,926.1 1908.0,927.6C1908.8,929.1 1909.5,930.6 1910.2,932.1C1911.0,933.5 1911.7,935.0 1912.5,936.5C1913.2,938.0 1914.0,939.5 1914.8,940.9C1915.5,942.4 1916.3,943.9 1917.0,945.4C1917.8,946.8 1918.6,948.3 1919.4,949.8C1920.1,951.3 1920.9,952.7 1921.7,954.2C1922.5,955.7 1923.3,957.1 1924.1,958.6C1924.9,960.0 1925.7,961.5 1926.5,963.0C1927.3,964.4 1928.1,965.9 1928.9,967.3C1929.7,968.8 1930.5,970.2 1931.4,971.7C1932.2,973.1 1933.0,974.5 1933.8,976.0C1934.7,977.4 1935.5,978.9 1936.3,980.3C1937.2,981.7 1938.0,983.2 1938.9,984.6C1939.7,986.0 1940.6,987.5 1941.5,988.9C1942.3,990.3 1943.2,991.7 1944.1,993.2C1944.9,994.6 1945.8,996.0 1946.7,997.4C1947.6,998.8 1948.5,1000.2 1949.4,1001.7C1950.3,1003.1 1951.2,1004.5 1952.1,1005.9C1953.0,1007.3 1953.9,1008.7 1954.8,1010.1C1955.7,1011.5 1956.6,1012.9 1957.5,1014.3C1958.5,1015.7 1959.4,1017.0 1960.3,1018.4C1961.3,1019.8 1962.2,1021.2 1963.2,1022.6C1964.1,1024.0 1965.1,1025.3 1966.0,1026.7C1967.0,1028.1 1968.0,1029.4 1968.9,1030.8C1969.9,1032.2 1970.9,1033.5 1971.9,1034.9C1972.9,1036.2 1973.9,1037.6 1974.9,1038.9C1975.9,1040.2 1976.9,1041.5 1978.0,1042.9C1979.0,1044.2 1980.0,1045.5 1981.1,1046.8C1982.1,1048.1 1983.2,1049.4 1984.3,1050.7C1985.3,1051.9 1986.4,1053.2 1987.5,1054.5C1988.6,1055.7 1989.7,1057.0 1990.8,1058.2C1991.9,1059.4 1993.1,1060.7 1994.2,1061.9C1995.3,1063.1 1996.5,1064.3 1997.7,1065.4C1998.8,1066.6 2000.0,1067.8 2001.2,1069.0C2002.4,1070.1 2003.6,1071.2 2004.8,1072.4C2006.1,1073.5 2007.3,1074.6 2008.5,1075.7C2009.8,1076.8 2011.1,1077.9 2012.4,1078.9C2013.6,1080.0 2014.9,1081.0 2016.3,1082.1C2017.6,1083.1 2018.9,1084.1 2020.2,1085.1C2021.6,1086.1 2022.9,1087.1 2024.3,1088.0C2025.7,1089.0 2027.0,1089.9 2028.4,1090.9C2029.8,1091.8 2031.2,1092.7 2032.6,1093.6C2034.0,1094.6 2035.4,1095.5 2036.9,1096.3C2038.3,1097.2 2039.7,1098.1 2041.2,1098.9C2042.6,1099.8 2044.1,1100.7 2045.5,1101.5C2047.0,1102.3 2048.4,1103.1 2049.9,1104.0C2051.4,1104.8 2052.8,1105.6 2054.3,1106.4C2055.8,1107.2 2057.3,1107.9 2058.7,1108.7C2060.2,1109.5 2061.7,1110.2 2063.2,1111.0C2064.7,1111.7 2066.2,1112.5 2067.7,1113.2C2069.2,1113.9 2070.7,1114.6 2072.2,1115.3C2073.7,1116.1 2075.2,1116.8 2076.7,1117.4C2078.3,1118.1 2079.8,1118.8 2081.3,1119.5C2082.8,1120.1 2084.4,1120.8 2085.9,1121.4C2087.4,1122.1 2089.0,1122.7 2090.5,1123.4C2092.0,1124.0 2093.6,1124.6 2095.1,1125.2C2096.7,1125.8 2098.2,1126.4 2099.8,1127.0C2101.3,1127.6 2102.9,1128.2 2104.5,1128.7C2106.0,1129.3 2107.6,1129.9 2109.1,1130.4C2110.7,1131.0 2112.3,1131.5 2113.9,1132.0C2115.4,1132.6 2117.0,1133.1 2118.6,1133.6C2120.2,1134.1 2121.8,1134.6 2123.3,1135.1C2124.9,1135.6 2126.5,1136.1 2128.1,1136.6C2129.7,1137.1 2131.3,1137.5 2132.9,1138.0C2134.5,1138.4 2136.1,1138.9 2137.7,1139.3C2139.3,1139.8 2140.9,1140.2 2142.5,1140.6C2144.1,1141.1 2145.7,1141.5 2147.3,1141.9C2149.0,1142.3 2150.6,1142.7 2152.2,1143.1C2153.8,1143.5 2155.4,1143.9 2157.1,1144.2C2158.7,1144.6 2160.3,1145.0 2161.9,1145.3C2163.6,1145.7 2165.2,1146.1 2166.8,1146.4C2168.4,1146.8 2170.1,1147.1 2171.7,1147.4C2173.3,1147.8 2175.0,1148.1 2176.6,1148.4C2178.3,1148.8 2179.9,1149.1 2181.5,1149.4C2183.2,1149.7 2184.8,1150.0 2186.5,1150.3C2188.1,1150.6 2189.7,1150.9 2191.4,1151.2C2193.0,1151.5 2194.7,1151.7 2196.3,1152.0C2198.0,1152.3 2199.6,1152.6 2201.3,1152.8C2202.9,1153.1 2204.6,1153.4 2206.2,1153.6C2207.9,1153.9 2209.5,1154.1 2211.2,1154.4C2212.8,1154.6 2214.5,1154.9 2216.1,1155.1C2217.8,1155.4 2219.5,1155.6 2221.1,1155.8C2222.8,1156.1 2224.4,1156.3 2226.1,1156.5C2227.7,1156.7 2229.4,1157.0 2231.0,1157.2C2232.7,1157.4 2234.4,1157.6 2236.0,1157.8C2237.7,1158.0 2239.3,1158.3 2241.0,1158.5C2242.6,1158.7 2244.3,1158.9 2245.9,1159.1C2247.6,1159.3 2249.3,1159.5 2250.9,1159.7C2252.6,1159.9 2254.2,1160.1 2255.9,1160.3C2257.5,1160.5 2259.2,1160.7 2260.8,1160.8C2262.5,1161.0 2264.2,1161.2 2265.8,1161.4C2267.5,1161.6 2269.1,1161.8 2270.8,1162.0C2272.4,1162.1 2274.1,1162.3 2275.7,1162.5C2277.4,1162.7 2279.0,1162.8 2280.7,1163.0C2282.4,1163.2 2284.0,1163.4 2285.7,1163.5C2287.3,1163.7 2289.0,1163.9 2290.6,1164.0C2292.3,1164.2 2293.9,1164.3 2295.6,1164.5C2297.2,1164.7 2298.9,1164.8 2300.6,1165.0C2302.2,1165.1 2303.9,1165.3 2305.5,1165.4C2307.2,1165.6 2308.8,1165.7 2310.5,1165.9C2312.1,1166.0 2313.8,1166.2 2315.5,1166.3C2317.1,1166.4 2318.8,1166.6 2320.4,1166.7C2322.1,1166.8 2323.7,1167.0 2325.4,1167.1C2327.1,1167.2 2328.7,1167.4 2330.4,1167.5C2332.0,1167.6 2333.7,1167.7 2335.4,1167.9C2337.0,1168.0 2338.7,1168.1 2340.3,1168.2C2342.0,1168.4 2343.7,1168.5 2345.3,1168.6C2347.0,1168.7 2348.6,1168.8 2350.3,1168.9C2352.0,1169.0 2353.6,1169.1 2355.3,1169.2C2357.0,1169.3 2358.6,1169.5 2360.3,1169.6C2362.0,1169.7 2363.6,1169.8 2365.3,1169.9C2367.0,1169.9 2368.6,1170.0 2370.3,1170.1C2372.0,1170.2 2373.6,1170.3 2375.3,1170.4C2377.0,1170.5 2379.0,1170.6 2380.3,1170.7C2381.6,1170.7 2381.2,1170.7 2383.0,1170.8C2384.8,1170.9 2389.7,1171.1 2391.0,1171.2"/>
</g>
<text transform="translate(219.8,89.6) scale(1.003,1)" font-size="92">0.4</text>
<text transform="translate(219.8,368.4) scale(1.003,1)" font-size="92">0.3</text>
<text transform="translate(219.8,647.1) scale(1.003,1)" font-size="92">0.2</text>
<text transform="translate(219.8,925.9) scale(1.003,1)" font-size="92">0.1</text>
<text transform="translate(219.8,1204.6) scale(1.003,1)" font-size="92">0.0</text>
<text transform="translate(360.4,1314.3) scale(1.009,1)" font-size="92">200</text>
<text transform="translate(842.5,1314.3) scale(1.009,1)" font-size="92">250</text>
<text transform="translate(1324.6,1314.3) scale(1.009,1)" font-size="92">300</text>
<text transform="translate(1806.7,1314.3) scale(1.009,1)" font-size="92">350</text>
<text transform="translate(2288.8,1314.3) scale(1.009,1)" font-size="92">400</text>
<text transform="translate(989.3,1426.8) scale(0.995,1)" font-size="95"><tspan font-size="99">W</tspan>avelength [nm]</text>
<text transform="translate(114.7,830.6) rotate(-90) scale(1.006,1)" font-size="95"><tspan font-size="99">A</tspan>bs. [a.u.]</text>
<g><text transform="translate(536.2,204.8) scale(0.932,1)" font-size="92">1.0</text> <text transform="translate(664.8,210.0) scale(1.006,1)" font-size="117" style="font-family:'Liberation Serif',serif;font-weight:normal">×</text> <text transform="translate(742.2,204.8) scale(0.929,1)" font-size="92">10</text><text transform="translate(838.0,177.8) scale(0.962,1)" font-size="61">-5</text> <text transform="translate(912.3,204.8) scale(0.955,1)" font-size="92">M</text>
<text transform="translate(572.1,309.8) scale(0.985,1)" font-size="88">in</text> <text transform="translate(673.4,309.8) scale(0.935,1)" font-size="92">CH</text><text transform="translate(797.5,326.7)" font-size="61">2</text><text transform="translate(830.0,309.8) scale(0.915,1)" font-size="92">C</text><text transform="translate(891.7,309.8)" font-size="88">l</text><text transform="translate(915.1,326.7)" font-size="61">2</text></g>
<path d="M2096.1,161.2 H1983.7 a4,4 0 0 0 -4,4 v2.6 a4,4 0 0 0 4,4 H2096.1 Z" fill="#00519b"/>
<text transform="translate(2133.1,193.9) scale(0.940,1)" font-size="92"><tspan font-style="italic">E</tspan>-1<tspan font-size="88">a</tspan></text>
<path d="M2096.1,291.2 H1983.7 a4,4 0 0 0 -4,4 v2.6 a4,4 0 0 0 4,4 H2096.1 Z" fill="#ff0000"/>
<text transform="translate(2133.1,322.0) scale(0.940,1)" font-size="92"><tspan font-style="italic">E</tspan>-1<tspan font-size="88">b</tspan></text>
<path d="M2096.1,421.2 H1983.7 a4,4 0 0 0 -4,4 v2.6 a4,4 0 0 0 4,4 H2096.1 Z" fill="#000000"/>
<text transform="translate(2133.1,449.8) scale(0.940,1)" font-size="92"><tspan font-style="italic">E</tspan>-1<tspan font-size="88">c</tspan></text>
</svg></body></html>
